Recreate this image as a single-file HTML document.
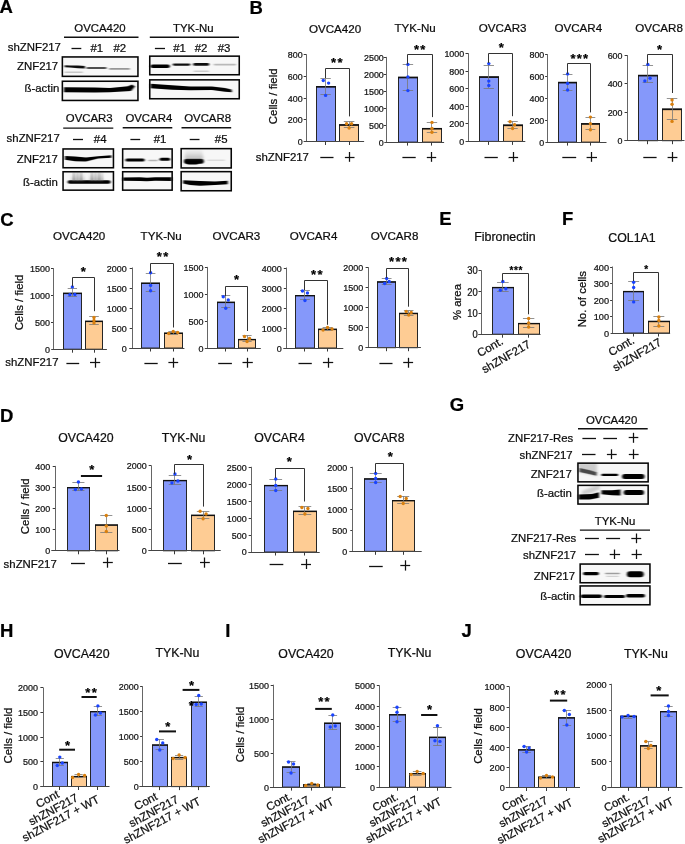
<!DOCTYPE html>
<html><head><meta charset="utf-8"><style>
html,body{margin:0;padding:0;background:#fff;}
svg{display:block;font-family:"Liberation Sans",sans-serif;will-change:transform;}
text{stroke:#000;stroke-width:0.22px;}
</style></head><body>
<svg width="685" height="844" viewBox="0 0 685 844">
<defs>
<filter id="bl1" x="-20%" y="-100%" width="140%" height="300%"><feGaussianBlur stdDeviation="0.9 0.7"/></filter>
<linearGradient id="gsm" x1="0" y1="0" x2="0" y2="1"><stop offset="0" stop-color="#bbb" stop-opacity="0.2"/><stop offset="1" stop-color="#777" stop-opacity="0.9"/></linearGradient>
<linearGradient id="gsm2" x1="0" y1="0" x2="0" y2="1"><stop offset="0" stop-color="#888" stop-opacity="0.55"/><stop offset="1" stop-color="#aaa" stop-opacity="0.2"/></linearGradient>
<filter id="bl2" x="-20%" y="-100%" width="140%" height="300%"><feGaussianBlur stdDeviation="1.5 1.2"/></filter>
</defs>
<rect width="685" height="844" fill="#fff"/>
<text x="-0.46" y="13.03" font-size="18.5" text-anchor="start" font-weight="bold" fill="#000" >A</text>
<text x="249.56" y="14.48" font-size="18.5" text-anchor="start" font-weight="bold" fill="#000" >B</text>
<text x="0.34" y="225.53" font-size="18.5" text-anchor="start" font-weight="bold" fill="#000" >C</text>
<text x="-0.04" y="422.13" font-size="18.5" text-anchor="start" font-weight="bold" fill="#000" >D</text>
<text x="439.26" y="225.13" font-size="18.5" text-anchor="start" font-weight="bold" fill="#000" >E</text>
<text x="561.96" y="225.23" font-size="18.5" text-anchor="start" font-weight="bold" fill="#000" >F</text>
<text x="449.74" y="410.93" font-size="18.5" text-anchor="start" font-weight="bold" fill="#000" >G</text>
<text x="-0.04" y="637.13" font-size="18.5" text-anchor="start" font-weight="bold" fill="#000" >H</text>
<text x="225.36" y="636.53" font-size="18.5" text-anchor="start" font-weight="bold" fill="#000" >I</text>
<text x="461.52" y="636.53" font-size="18.5" text-anchor="start" font-weight="bold" fill="#000" >J</text>
<text x="308.90" y="161.18" font-size="11.4" text-anchor="end" fill="#111" >shZNF217</text>
<text x="0" y="0" font-size="11.4" text-anchor="middle" fill="#111" transform="translate(273.00,96.30) rotate(-90)" dy="3.99">Cells / field</text>
<text x="335.00" y="32.62" font-size="11.6" text-anchor="middle" fill="#111" >OVCA420</text>
<text x="0" y="0" font-size="8.9" text-anchor="end" fill="#1a1a1a" stroke-width="0.08" transform="translate(302.70,144.96) scale(1,1.08)">0</text>
<line x1="303.70" y1="119.50" x2="306.30" y2="119.50" stroke="#3a3a3a" stroke-width="1"/>
<text x="0" y="0" font-size="8.9" text-anchor="end" fill="#1a1a1a" stroke-width="0.08" transform="translate(302.70,123.26) scale(1,1.08)">200</text>
<line x1="303.70" y1="98.50" x2="306.30" y2="98.50" stroke="#3a3a3a" stroke-width="1"/>
<text x="0" y="0" font-size="8.9" text-anchor="end" fill="#1a1a1a" stroke-width="0.08" transform="translate(302.70,101.56) scale(1,1.08)">400</text>
<line x1="303.70" y1="76.50" x2="306.30" y2="76.50" stroke="#3a3a3a" stroke-width="1"/>
<text x="0" y="0" font-size="8.9" text-anchor="end" fill="#1a1a1a" stroke-width="0.08" transform="translate(302.70,79.86) scale(1,1.08)">600</text>
<line x1="303.70" y1="54.50" x2="306.30" y2="54.50" stroke="#3a3a3a" stroke-width="1"/>
<text x="0" y="0" font-size="8.9" text-anchor="end" fill="#1a1a1a" stroke-width="0.08" transform="translate(302.70,58.16) scale(1,1.08)">800</text>
<line x1="306.50" y1="54.20" x2="306.50" y2="141.50" stroke="#666" stroke-width="1"/>
<rect x="316.50" y="86.60" width="19.00" height="54.90" fill="#8598FA" stroke="#262626" stroke-width="1"/>
<line x1="316.00" y1="86.85" x2="336.00" y2="86.85" stroke="#111" stroke-width="1.6"/>
<rect x="339.50" y="124.80" width="19.00" height="16.70" fill="#FECC94" stroke="#262626" stroke-width="1"/>
<line x1="339.00" y1="125.05" x2="359.00" y2="125.05" stroke="#111" stroke-width="1.6"/>
<line x1="303.60" y1="141.50" x2="364.10" y2="141.50" stroke="#444" stroke-width="1.2"/>
<line x1="325.50" y1="141.50" x2="325.50" y2="145.00" stroke="#3a3a3a" stroke-width="1"/>
<line x1="349.50" y1="141.50" x2="349.50" y2="145.00" stroke="#3a3a3a" stroke-width="1"/>
<line x1="325.50" y1="78.30" x2="325.50" y2="94.50" stroke="#777" stroke-width="0.8"/>
<line x1="320.42" y1="78.50" x2="330.78" y2="78.50" stroke="#777" stroke-width="0.8"/>
<line x1="320.42" y1="94.50" x2="330.78" y2="94.50" stroke="#777" stroke-width="0.8"/>
<circle cx="323.30" cy="80.50" r="1.7" fill="#1a44ff"/>
<circle cx="328.60" cy="83.10" r="1.7" fill="#1a44ff"/>
<circle cx="325.60" cy="95.40" r="1.7" fill="#1a44ff"/>
<line x1="349.50" y1="121.70" x2="349.50" y2="127.50" stroke="#777" stroke-width="0.8"/>
<line x1="343.81" y1="121.50" x2="354.39" y2="121.50" stroke="#777" stroke-width="0.8"/>
<line x1="343.81" y1="127.50" x2="354.39" y2="127.50" stroke="#777" stroke-width="0.8"/>
<circle cx="346.60" cy="123.80" r="1.7" fill="#d9800f"/>
<circle cx="351.60" cy="123.80" r="1.7" fill="#d9800f"/>
<circle cx="349.10" cy="128.00" r="1.7" fill="#d9800f"/>
<path d="M325.50,78.00 V68.50 H349.50 V116.40" fill="none" stroke="#333" stroke-width="1"/>
<text x="337.45" y="66.84" font-size="13" text-anchor="middle" fill="#000" font-weight="bold" letter-spacing="1.3">**</text>
<line x1="320.30" y1="157.50" x2="333.50" y2="157.50" stroke="#111" stroke-width="1.3"/>
<line x1="344.90" y1="157.50" x2="354.50" y2="157.50" stroke="#111" stroke-width="1.25"/>
<line x1="349.50" y1="152.00" x2="349.50" y2="161.80" stroke="#111" stroke-width="1.25"/>
<text x="415.10" y="32.42" font-size="11.6" text-anchor="middle" fill="#111" >TYK-Nu</text>
<text x="0" y="0" font-size="8.9" text-anchor="end" fill="#1a1a1a" stroke-width="0.08" transform="translate(383.80,145.56) scale(1,1.08)">0</text>
<line x1="383.70" y1="125.50" x2="386.30" y2="125.50" stroke="#3a3a3a" stroke-width="1"/>
<text x="0" y="0" font-size="8.9" text-anchor="end" fill="#1a1a1a" stroke-width="0.08" transform="translate(383.80,128.62) scale(1,1.08)">500</text>
<line x1="383.70" y1="108.50" x2="386.30" y2="108.50" stroke="#3a3a3a" stroke-width="1"/>
<text x="0" y="0" font-size="8.9" text-anchor="end" fill="#1a1a1a" stroke-width="0.08" transform="translate(383.80,111.68) scale(1,1.08)">1000</text>
<line x1="383.70" y1="91.50" x2="386.30" y2="91.50" stroke="#3a3a3a" stroke-width="1"/>
<text x="0" y="0" font-size="8.9" text-anchor="end" fill="#1a1a1a" stroke-width="0.08" transform="translate(383.80,94.74) scale(1,1.08)">1500</text>
<line x1="383.70" y1="74.50" x2="386.30" y2="74.50" stroke="#3a3a3a" stroke-width="1"/>
<text x="0" y="0" font-size="8.9" text-anchor="end" fill="#1a1a1a" stroke-width="0.08" transform="translate(383.80,77.80) scale(1,1.08)">2000</text>
<line x1="383.70" y1="57.50" x2="386.30" y2="57.50" stroke="#3a3a3a" stroke-width="1"/>
<text x="0" y="0" font-size="8.9" text-anchor="end" fill="#1a1a1a" stroke-width="0.08" transform="translate(383.80,60.86) scale(1,1.08)">2500</text>
<line x1="386.50" y1="56.90" x2="386.50" y2="142.10" stroke="#666" stroke-width="1"/>
<rect x="398.50" y="77.30" width="19.00" height="64.80" fill="#8598FA" stroke="#262626" stroke-width="1"/>
<line x1="398.00" y1="77.55" x2="418.00" y2="77.55" stroke="#111" stroke-width="1.6"/>
<rect x="422.50" y="128.50" width="19.00" height="13.60" fill="#FECC94" stroke="#262626" stroke-width="1"/>
<line x1="422.00" y1="128.75" x2="442.00" y2="128.75" stroke="#111" stroke-width="1.6"/>
<line x1="384.30" y1="142.50" x2="444.10" y2="142.50" stroke="#444" stroke-width="1.2"/>
<line x1="407.50" y1="142.10" x2="407.50" y2="145.60" stroke="#3a3a3a" stroke-width="1"/>
<line x1="431.50" y1="142.10" x2="431.50" y2="145.60" stroke="#3a3a3a" stroke-width="1"/>
<line x1="407.50" y1="64.40" x2="407.50" y2="90.60" stroke="#777" stroke-width="0.8"/>
<line x1="402.66" y1="64.50" x2="413.14" y2="64.50" stroke="#777" stroke-width="0.8"/>
<line x1="402.66" y1="90.50" x2="413.14" y2="90.50" stroke="#777" stroke-width="0.8"/>
<circle cx="407.90" cy="64.40" r="1.7" fill="#1a44ff"/>
<circle cx="407.90" cy="76.90" r="1.7" fill="#1a44ff"/>
<circle cx="407.90" cy="90.60" r="1.7" fill="#1a44ff"/>
<line x1="431.50" y1="122.40" x2="431.50" y2="132.30" stroke="#777" stroke-width="0.8"/>
<line x1="426.74" y1="122.50" x2="437.16" y2="122.50" stroke="#777" stroke-width="0.8"/>
<line x1="426.74" y1="132.50" x2="437.16" y2="132.50" stroke="#777" stroke-width="0.8"/>
<circle cx="431.95" cy="122.40" r="1.7" fill="#d9800f"/>
<circle cx="431.95" cy="128.50" r="1.7" fill="#d9800f"/>
<circle cx="431.95" cy="132.30" r="1.7" fill="#d9800f"/>
<path d="M407.50,64.40 V54.50 H432.50 V117.10" fill="none" stroke="#333" stroke-width="1"/>
<text x="420.25" y="54.14" font-size="13" text-anchor="middle" fill="#000" font-weight="bold" letter-spacing="1.3">**</text>
<line x1="402.40" y1="157.50" x2="415.70" y2="157.50" stroke="#111" stroke-width="1.3"/>
<line x1="426.80" y1="157.50" x2="436.20" y2="157.50" stroke="#111" stroke-width="1.25"/>
<line x1="431.50" y1="152.00" x2="431.50" y2="161.80" stroke="#111" stroke-width="1.25"/>
<text x="502.70" y="32.42" font-size="11.6" text-anchor="middle" fill="#111" >OVCAR3</text>
<text x="0" y="0" font-size="8.9" text-anchor="end" fill="#1a1a1a" stroke-width="0.08" transform="translate(464.20,144.86) scale(1,1.08)">0</text>
<line x1="465.50" y1="123.50" x2="468.10" y2="123.50" stroke="#3a3a3a" stroke-width="1"/>
<text x="0" y="0" font-size="8.9" text-anchor="end" fill="#1a1a1a" stroke-width="0.08" transform="translate(464.20,127.30) scale(1,1.08)">200</text>
<line x1="465.50" y1="106.50" x2="468.10" y2="106.50" stroke="#3a3a3a" stroke-width="1"/>
<text x="0" y="0" font-size="8.9" text-anchor="end" fill="#1a1a1a" stroke-width="0.08" transform="translate(464.20,109.74) scale(1,1.08)">400</text>
<line x1="465.50" y1="88.50" x2="468.10" y2="88.50" stroke="#3a3a3a" stroke-width="1"/>
<text x="0" y="0" font-size="8.9" text-anchor="end" fill="#1a1a1a" stroke-width="0.08" transform="translate(464.20,92.18) scale(1,1.08)">600</text>
<line x1="465.50" y1="71.50" x2="468.10" y2="71.50" stroke="#3a3a3a" stroke-width="1"/>
<text x="0" y="0" font-size="8.9" text-anchor="end" fill="#1a1a1a" stroke-width="0.08" transform="translate(464.20,74.62) scale(1,1.08)">800</text>
<line x1="465.50" y1="53.50" x2="468.10" y2="53.50" stroke="#3a3a3a" stroke-width="1"/>
<text x="0" y="0" font-size="8.9" text-anchor="end" fill="#1a1a1a" stroke-width="0.08" transform="translate(464.20,57.06) scale(1,1.08)">1000</text>
<line x1="468.50" y1="53.10" x2="468.50" y2="141.40" stroke="#666" stroke-width="1"/>
<rect x="479.50" y="76.90" width="19.00" height="64.50" fill="#8598FA" stroke="#262626" stroke-width="1"/>
<line x1="479.00" y1="77.15" x2="499.00" y2="77.15" stroke="#111" stroke-width="1.6"/>
<rect x="503.50" y="125.10" width="19.00" height="16.30" fill="#FECC94" stroke="#262626" stroke-width="1"/>
<line x1="503.00" y1="125.35" x2="523.00" y2="125.35" stroke="#111" stroke-width="1.6"/>
<line x1="465.50" y1="141.50" x2="525.30" y2="141.50" stroke="#444" stroke-width="1.2"/>
<line x1="488.50" y1="141.40" x2="488.50" y2="144.90" stroke="#3a3a3a" stroke-width="1"/>
<line x1="512.50" y1="141.40" x2="512.50" y2="144.90" stroke="#3a3a3a" stroke-width="1"/>
<line x1="488.50" y1="65.00" x2="488.50" y2="88.10" stroke="#777" stroke-width="0.8"/>
<line x1="483.62" y1="65.50" x2="493.98" y2="65.50" stroke="#777" stroke-width="0.8"/>
<line x1="483.62" y1="88.50" x2="493.98" y2="88.50" stroke="#777" stroke-width="0.8"/>
<circle cx="488.80" cy="63.60" r="1.7" fill="#1a44ff"/>
<circle cx="488.80" cy="81.10" r="1.7" fill="#1a44ff"/>
<circle cx="488.80" cy="85.50" r="1.7" fill="#1a44ff"/>
<line x1="512.50" y1="121.30" x2="512.50" y2="128.50" stroke="#777" stroke-width="0.8"/>
<line x1="507.47" y1="121.50" x2="517.73" y2="121.50" stroke="#777" stroke-width="0.8"/>
<line x1="507.47" y1="128.50" x2="517.73" y2="128.50" stroke="#777" stroke-width="0.8"/>
<circle cx="510.10" cy="121.80" r="1.7" fill="#d9800f"/>
<circle cx="514.60" cy="124.70" r="1.7" fill="#d9800f"/>
<circle cx="512.60" cy="128.50" r="1.7" fill="#d9800f"/>
<path d="M488.50,63.00 V53.50 H512.50 V116.20" fill="none" stroke="#333" stroke-width="1"/>
<text x="501.85" y="51.84" font-size="13" text-anchor="middle" fill="#000" font-weight="bold" letter-spacing="1.3">*</text>
<line x1="484.50" y1="157.50" x2="497.80" y2="157.50" stroke="#111" stroke-width="1.3"/>
<line x1="508.60" y1="157.50" x2="518.10" y2="157.50" stroke="#111" stroke-width="1.25"/>
<line x1="513.50" y1="152.00" x2="513.50" y2="161.80" stroke="#111" stroke-width="1.25"/>
<text x="578.30" y="32.42" font-size="11.6" text-anchor="middle" fill="#111" >OVCAR4</text>
<text x="0" y="0" font-size="8.9" text-anchor="end" fill="#1a1a1a" stroke-width="0.08" transform="translate(544.30,145.56) scale(1,1.08)">0</text>
<line x1="545.10" y1="120.50" x2="547.70" y2="120.50" stroke="#3a3a3a" stroke-width="1"/>
<text x="0" y="0" font-size="8.9" text-anchor="end" fill="#1a1a1a" stroke-width="0.08" transform="translate(544.30,123.76) scale(1,1.08)">200</text>
<line x1="545.10" y1="98.50" x2="547.70" y2="98.50" stroke="#3a3a3a" stroke-width="1"/>
<text x="0" y="0" font-size="8.9" text-anchor="end" fill="#1a1a1a" stroke-width="0.08" transform="translate(544.30,101.96) scale(1,1.08)">400</text>
<line x1="545.10" y1="76.50" x2="547.70" y2="76.50" stroke="#3a3a3a" stroke-width="1"/>
<text x="0" y="0" font-size="8.9" text-anchor="end" fill="#1a1a1a" stroke-width="0.08" transform="translate(544.30,80.16) scale(1,1.08)">600</text>
<line x1="545.10" y1="54.50" x2="547.70" y2="54.50" stroke="#3a3a3a" stroke-width="1"/>
<text x="0" y="0" font-size="8.9" text-anchor="end" fill="#1a1a1a" stroke-width="0.08" transform="translate(544.30,58.36) scale(1,1.08)">800</text>
<line x1="547.50" y1="54.40" x2="547.50" y2="142.10" stroke="#666" stroke-width="1"/>
<rect x="558.50" y="82.40" width="18.00" height="59.70" fill="#8598FA" stroke="#262626" stroke-width="1"/>
<line x1="558.00" y1="82.65" x2="577.00" y2="82.65" stroke="#111" stroke-width="1.6"/>
<rect x="581.50" y="123.70" width="18.00" height="18.40" fill="#FECC94" stroke="#262626" stroke-width="1"/>
<line x1="581.00" y1="123.95" x2="600.00" y2="123.95" stroke="#111" stroke-width="1.6"/>
<line x1="545.40" y1="142.50" x2="606.50" y2="142.50" stroke="#444" stroke-width="1.2"/>
<line x1="567.50" y1="142.10" x2="567.50" y2="145.60" stroke="#3a3a3a" stroke-width="1"/>
<line x1="590.50" y1="142.10" x2="590.50" y2="145.60" stroke="#3a3a3a" stroke-width="1"/>
<line x1="567.50" y1="74.50" x2="567.50" y2="90.60" stroke="#777" stroke-width="0.8"/>
<line x1="562.74" y1="74.50" x2="572.46" y2="74.50" stroke="#777" stroke-width="0.8"/>
<line x1="562.74" y1="90.50" x2="572.46" y2="90.50" stroke="#777" stroke-width="0.8"/>
<circle cx="567.60" cy="73.90" r="1.7" fill="#1a44ff"/>
<circle cx="567.60" cy="83.40" r="1.7" fill="#1a44ff"/>
<circle cx="567.60" cy="90.00" r="1.7" fill="#1a44ff"/>
<line x1="590.50" y1="117.10" x2="590.50" y2="129.80" stroke="#777" stroke-width="0.8"/>
<line x1="585.49" y1="117.50" x2="595.31" y2="117.50" stroke="#777" stroke-width="0.8"/>
<line x1="585.49" y1="129.50" x2="595.31" y2="129.50" stroke="#777" stroke-width="0.8"/>
<circle cx="590.40" cy="117.10" r="1.7" fill="#d9800f"/>
<circle cx="590.40" cy="123.70" r="1.7" fill="#d9800f"/>
<circle cx="590.40" cy="129.80" r="1.7" fill="#d9800f"/>
<path d="M567.50,73.90 V63.50 H590.50 V112.40" fill="none" stroke="#333" stroke-width="1"/>
<text x="579.95" y="62.64" font-size="13" text-anchor="middle" fill="#000" font-weight="bold" letter-spacing="1.3">***</text>
<line x1="562.30" y1="157.50" x2="576.20" y2="157.50" stroke="#111" stroke-width="1.3"/>
<line x1="586.60" y1="157.50" x2="597.00" y2="157.50" stroke="#111" stroke-width="1.25"/>
<line x1="591.50" y1="152.00" x2="591.50" y2="161.80" stroke="#111" stroke-width="1.25"/>
<text x="659.10" y="32.42" font-size="11.6" text-anchor="middle" fill="#111" >OVCAR8</text>
<text x="0" y="0" font-size="8.9" text-anchor="end" fill="#1a1a1a" stroke-width="0.08" transform="translate(622.50,144.16) scale(1,1.08)">0</text>
<line x1="624.60" y1="112.50" x2="627.20" y2="112.50" stroke="#3a3a3a" stroke-width="1"/>
<text x="0" y="0" font-size="8.9" text-anchor="end" fill="#1a1a1a" stroke-width="0.08" transform="translate(622.50,115.76) scale(1,1.08)">200</text>
<line x1="624.60" y1="83.50" x2="627.20" y2="83.50" stroke="#3a3a3a" stroke-width="1"/>
<text x="0" y="0" font-size="8.9" text-anchor="end" fill="#1a1a1a" stroke-width="0.08" transform="translate(622.50,87.36) scale(1,1.08)">400</text>
<line x1="624.60" y1="55.50" x2="627.20" y2="55.50" stroke="#3a3a3a" stroke-width="1"/>
<text x="0" y="0" font-size="8.9" text-anchor="end" fill="#1a1a1a" stroke-width="0.08" transform="translate(622.50,58.96) scale(1,1.08)">600</text>
<line x1="627.50" y1="55.00" x2="627.50" y2="140.70" stroke="#666" stroke-width="1"/>
<rect x="638.50" y="75.40" width="19.00" height="65.30" fill="#8598FA" stroke="#262626" stroke-width="1"/>
<line x1="638.00" y1="75.65" x2="658.00" y2="75.65" stroke="#111" stroke-width="1.6"/>
<rect x="662.50" y="109.10" width="19.00" height="31.60" fill="#FECC94" stroke="#262626" stroke-width="1"/>
<line x1="662.00" y1="109.35" x2="682.00" y2="109.35" stroke="#111" stroke-width="1.6"/>
<line x1="624.30" y1="140.50" x2="684.50" y2="140.50" stroke="#444" stroke-width="1.2"/>
<line x1="647.50" y1="140.70" x2="647.50" y2="144.20" stroke="#3a3a3a" stroke-width="1"/>
<line x1="672.50" y1="140.70" x2="672.50" y2="144.20" stroke="#3a3a3a" stroke-width="1"/>
<line x1="647.50" y1="65.90" x2="647.50" y2="82.90" stroke="#777" stroke-width="0.8"/>
<line x1="642.64" y1="65.50" x2="653.06" y2="65.50" stroke="#777" stroke-width="0.8"/>
<line x1="642.64" y1="82.50" x2="653.06" y2="82.50" stroke="#777" stroke-width="0.8"/>
<circle cx="647.85" cy="64.40" r="1.7" fill="#1a44ff"/>
<circle cx="650.05" cy="78.20" r="1.7" fill="#1a44ff"/>
<circle cx="644.85" cy="81.00" r="1.7" fill="#1a44ff"/>
<line x1="672.50" y1="98.10" x2="672.50" y2="119.50" stroke="#777" stroke-width="0.8"/>
<line x1="666.78" y1="98.50" x2="677.31" y2="98.50" stroke="#777" stroke-width="0.8"/>
<line x1="666.78" y1="119.50" x2="677.31" y2="119.50" stroke="#777" stroke-width="0.8"/>
<circle cx="672.05" cy="100.00" r="1.7" fill="#d9800f"/>
<circle cx="672.05" cy="104.20" r="1.7" fill="#d9800f"/>
<circle cx="672.05" cy="121.40" r="1.7" fill="#d9800f"/>
<path d="M647.50,64.40 V54.50 H672.50 V93.00" fill="none" stroke="#333" stroke-width="1"/>
<text x="660.25" y="53.54" font-size="13" text-anchor="middle" fill="#000" font-weight="bold" letter-spacing="1.3">*</text>
<line x1="643.30" y1="157.50" x2="656.60" y2="157.50" stroke="#111" stroke-width="1.3"/>
<line x1="667.60" y1="157.50" x2="677.40" y2="157.50" stroke="#111" stroke-width="1.25"/>
<line x1="672.50" y1="152.00" x2="672.50" y2="161.80" stroke="#111" stroke-width="1.25"/>
<text x="58.50" y="365.78" font-size="11.4" text-anchor="end" fill="#111" >shZNF217</text>
<text x="0" y="0" font-size="11.4" text-anchor="middle" fill="#111" transform="translate(18.90,302.50) rotate(-90)" dy="3.99">Cells / field</text>
<text x="79.20" y="240.32" font-size="11.6" text-anchor="middle" fill="#111" >OVCA420</text>
<text x="0" y="0" font-size="9.0" text-anchor="end" fill="#1a1a1a" stroke-width="0.08" transform="translate(49.90,352.70) scale(1,1.08)">0</text>
<line x1="51.00" y1="322.50" x2="53.60" y2="322.50" stroke="#3a3a3a" stroke-width="1"/>
<text x="0" y="0" font-size="9.0" text-anchor="end" fill="#1a1a1a" stroke-width="0.08" transform="translate(49.90,325.84) scale(1,1.08)">500</text>
<line x1="51.00" y1="295.50" x2="53.60" y2="295.50" stroke="#3a3a3a" stroke-width="1"/>
<text x="0" y="0" font-size="9.0" text-anchor="end" fill="#1a1a1a" stroke-width="0.08" transform="translate(49.90,298.97) scale(1,1.08)">1000</text>
<line x1="51.00" y1="268.50" x2="53.60" y2="268.50" stroke="#3a3a3a" stroke-width="1"/>
<text x="0" y="0" font-size="9.0" text-anchor="end" fill="#1a1a1a" stroke-width="0.08" transform="translate(49.90,272.10) scale(1,1.08)">1500</text>
<line x1="53.50" y1="268.10" x2="53.50" y2="349.20" stroke="#666" stroke-width="1"/>
<rect x="63.50" y="293.20" width="18.00" height="56.00" fill="#8598FA" stroke="#262626" stroke-width="1"/>
<line x1="63.00" y1="293.45" x2="82.00" y2="293.45" stroke="#111" stroke-width="1.3"/>
<rect x="85.50" y="321.20" width="17.00" height="28.00" fill="#FECC94" stroke="#262626" stroke-width="1"/>
<line x1="85.00" y1="321.45" x2="103.00" y2="321.45" stroke="#111" stroke-width="1.3"/>
<line x1="51.20" y1="349.50" x2="106.90" y2="349.50" stroke="#444" stroke-width="1.2"/>
<line x1="72.50" y1="349.20" x2="72.50" y2="352.70" stroke="#3a3a3a" stroke-width="1"/>
<line x1="94.50" y1="349.20" x2="94.50" y2="352.70" stroke="#3a3a3a" stroke-width="1"/>
<line x1="72.50" y1="288.70" x2="72.50" y2="296.40" stroke="#777" stroke-width="0.8"/>
<line x1="67.68" y1="288.50" x2="77.02" y2="288.50" stroke="#777" stroke-width="0.8"/>
<line x1="67.68" y1="296.50" x2="77.02" y2="296.50" stroke="#777" stroke-width="0.8"/>
<circle cx="72.35" cy="286.90" r="1.7" fill="#1a44ff"/>
<circle cx="69.85" cy="294.80" r="1.7" fill="#1a44ff"/>
<circle cx="74.85" cy="294.50" r="1.7" fill="#1a44ff"/>
<line x1="94.50" y1="316.90" x2="94.50" y2="324.10" stroke="#777" stroke-width="0.8"/>
<line x1="89.19" y1="316.50" x2="98.81" y2="316.50" stroke="#777" stroke-width="0.8"/>
<line x1="89.19" y1="324.50" x2="98.81" y2="324.50" stroke="#777" stroke-width="0.8"/>
<circle cx="94.00" cy="317.50" r="1.7" fill="#d9800f"/>
<circle cx="94.00" cy="320.50" r="1.7" fill="#d9800f"/>
<circle cx="94.00" cy="323.00" r="1.7" fill="#d9800f"/>
<path d="M72.50,286.50 V277.50 H94.50 V311.20" fill="none" stroke="#333" stroke-width="1"/>
<text x="83.85" y="275.94" font-size="13" text-anchor="middle" fill="#000" font-weight="bold" letter-spacing="1.3">*</text>
<line x1="66.40" y1="363.50" x2="79.20" y2="363.50" stroke="#111" stroke-width="1.3"/>
<line x1="90.00" y1="362.50" x2="100.20" y2="362.50" stroke="#111" stroke-width="1.25"/>
<line x1="95.50" y1="357.80" x2="95.50" y2="367.70" stroke="#111" stroke-width="1.25"/>
<text x="161.20" y="239.72" font-size="11.6" text-anchor="middle" fill="#111" >TYK-Nu</text>
<text x="0" y="0" font-size="9.0" text-anchor="end" fill="#1a1a1a" stroke-width="0.08" transform="translate(126.70,351.50) scale(1,1.08)">0</text>
<line x1="129.70" y1="328.50" x2="132.30" y2="328.50" stroke="#3a3a3a" stroke-width="1"/>
<text x="0" y="0" font-size="9.0" text-anchor="end" fill="#1a1a1a" stroke-width="0.08" transform="translate(126.70,331.50) scale(1,1.08)">500</text>
<line x1="129.70" y1="308.50" x2="132.30" y2="308.50" stroke="#3a3a3a" stroke-width="1"/>
<text x="0" y="0" font-size="9.0" text-anchor="end" fill="#1a1a1a" stroke-width="0.08" transform="translate(126.70,311.50) scale(1,1.08)">1000</text>
<line x1="129.70" y1="288.50" x2="132.30" y2="288.50" stroke="#3a3a3a" stroke-width="1"/>
<text x="0" y="0" font-size="9.0" text-anchor="end" fill="#1a1a1a" stroke-width="0.08" transform="translate(126.70,291.50) scale(1,1.08)">1500</text>
<line x1="129.70" y1="268.50" x2="132.30" y2="268.50" stroke="#3a3a3a" stroke-width="1"/>
<text x="0" y="0" font-size="9.0" text-anchor="end" fill="#1a1a1a" stroke-width="0.08" transform="translate(126.70,271.50) scale(1,1.08)">2000</text>
<line x1="132.50" y1="267.50" x2="132.50" y2="348.00" stroke="#666" stroke-width="1"/>
<rect x="141.50" y="283.10" width="18.00" height="64.90" fill="#8598FA" stroke="#262626" stroke-width="1"/>
<line x1="141.00" y1="283.35" x2="160.00" y2="283.35" stroke="#111" stroke-width="1.3"/>
<rect x="164.50" y="333.10" width="18.00" height="14.90" fill="#FECC94" stroke="#262626" stroke-width="1"/>
<line x1="164.00" y1="333.35" x2="183.00" y2="333.35" stroke="#111" stroke-width="1.3"/>
<line x1="129.20" y1="348.50" x2="184.40" y2="348.50" stroke="#444" stroke-width="1.2"/>
<line x1="150.50" y1="348.00" x2="150.50" y2="351.50" stroke="#3a3a3a" stroke-width="1"/>
<line x1="173.50" y1="348.00" x2="173.50" y2="351.50" stroke="#3a3a3a" stroke-width="1"/>
<line x1="150.50" y1="273.30" x2="150.50" y2="291.90" stroke="#777" stroke-width="0.8"/>
<line x1="145.79" y1="273.50" x2="155.41" y2="273.50" stroke="#777" stroke-width="0.8"/>
<line x1="145.79" y1="291.50" x2="155.41" y2="291.50" stroke="#777" stroke-width="0.8"/>
<circle cx="150.60" cy="272.80" r="1.7" fill="#1a44ff"/>
<circle cx="150.60" cy="285.40" r="1.7" fill="#1a44ff"/>
<circle cx="150.60" cy="290.70" r="1.7" fill="#1a44ff"/>
<line x1="173.50" y1="331.50" x2="173.50" y2="334.00" stroke="#777" stroke-width="0.8"/>
<line x1="168.39" y1="331.50" x2="178.01" y2="331.50" stroke="#777" stroke-width="0.8"/>
<line x1="168.39" y1="334.50" x2="178.01" y2="334.50" stroke="#777" stroke-width="0.8"/>
<circle cx="168.70" cy="333.50" r="1.7" fill="#d9800f"/>
<circle cx="173.20" cy="331.50" r="1.7" fill="#d9800f"/>
<circle cx="177.70" cy="332.50" r="1.7" fill="#d9800f"/>
<path d="M150.50,272.80 V263.50 H173.50 V327.50" fill="none" stroke="#333" stroke-width="1"/>
<text x="163.15" y="261.04" font-size="13" text-anchor="middle" fill="#000" font-weight="bold" letter-spacing="1.3">**</text>
<line x1="144.40" y1="363.50" x2="157.70" y2="363.50" stroke="#111" stroke-width="1.3"/>
<line x1="168.40" y1="362.50" x2="178.20" y2="362.50" stroke="#111" stroke-width="1.25"/>
<line x1="173.50" y1="357.80" x2="173.50" y2="367.70" stroke="#111" stroke-width="1.25"/>
<text x="236.40" y="239.72" font-size="11.6" text-anchor="middle" fill="#111" >OVCAR3</text>
<text x="0" y="0" font-size="9.0" text-anchor="end" fill="#1a1a1a" stroke-width="0.08" transform="translate(203.50,351.50) scale(1,1.08)">0</text>
<line x1="204.90" y1="321.50" x2="207.50" y2="321.50" stroke="#3a3a3a" stroke-width="1"/>
<text x="0" y="0" font-size="9.0" text-anchor="end" fill="#1a1a1a" stroke-width="0.08" transform="translate(203.50,324.64) scale(1,1.08)">500</text>
<line x1="204.90" y1="294.50" x2="207.50" y2="294.50" stroke="#3a3a3a" stroke-width="1"/>
<text x="0" y="0" font-size="9.0" text-anchor="end" fill="#1a1a1a" stroke-width="0.08" transform="translate(203.50,297.77) scale(1,1.08)">1000</text>
<line x1="204.90" y1="267.50" x2="207.50" y2="267.50" stroke="#3a3a3a" stroke-width="1"/>
<text x="0" y="0" font-size="9.0" text-anchor="end" fill="#1a1a1a" stroke-width="0.08" transform="translate(203.50,270.90) scale(1,1.08)">1500</text>
<line x1="207.50" y1="266.90" x2="207.50" y2="348.00" stroke="#666" stroke-width="1"/>
<rect x="217.50" y="302.20" width="17.00" height="45.80" fill="#8598FA" stroke="#262626" stroke-width="1"/>
<line x1="217.00" y1="302.45" x2="235.00" y2="302.45" stroke="#111" stroke-width="1.3"/>
<rect x="238.50" y="339.40" width="17.00" height="8.60" fill="#FECC94" stroke="#262626" stroke-width="1"/>
<line x1="238.00" y1="339.65" x2="256.00" y2="339.65" stroke="#111" stroke-width="1.3"/>
<line x1="204.80" y1="348.50" x2="260.80" y2="348.50" stroke="#444" stroke-width="1.2"/>
<line x1="225.50" y1="348.00" x2="225.50" y2="351.50" stroke="#3a3a3a" stroke-width="1"/>
<line x1="247.50" y1="348.00" x2="247.50" y2="351.50" stroke="#3a3a3a" stroke-width="1"/>
<line x1="225.50" y1="295.50" x2="225.50" y2="307.90" stroke="#777" stroke-width="0.8"/>
<line x1="221.19" y1="295.50" x2="230.31" y2="295.50" stroke="#777" stroke-width="0.8"/>
<line x1="221.19" y1="307.50" x2="230.31" y2="307.50" stroke="#777" stroke-width="0.8"/>
<circle cx="223.25" cy="296.70" r="1.7" fill="#1a44ff"/>
<circle cx="228.25" cy="300.00" r="1.7" fill="#1a44ff"/>
<circle cx="225.75" cy="308.30" r="1.7" fill="#1a44ff"/>
<line x1="247.50" y1="335.50" x2="247.50" y2="341.70" stroke="#777" stroke-width="0.8"/>
<line x1="242.49" y1="335.50" x2="251.61" y2="335.50" stroke="#777" stroke-width="0.8"/>
<line x1="242.49" y1="341.50" x2="251.61" y2="341.50" stroke="#777" stroke-width="0.8"/>
<circle cx="244.55" cy="336.50" r="1.7" fill="#d9800f"/>
<circle cx="249.55" cy="338.50" r="1.7" fill="#d9800f"/>
<circle cx="247.05" cy="341.50" r="1.7" fill="#d9800f"/>
<path d="M225.50,296.00 V286.50 H247.50 V331.00" fill="none" stroke="#333" stroke-width="1"/>
<text x="237.25" y="284.14" font-size="13" text-anchor="middle" fill="#000" font-weight="bold" letter-spacing="1.3">*</text>
<line x1="218.20" y1="363.50" x2="231.90" y2="363.50" stroke="#111" stroke-width="1.3"/>
<line x1="242.50" y1="362.50" x2="252.80" y2="362.50" stroke="#111" stroke-width="1.25"/>
<line x1="247.50" y1="357.80" x2="247.50" y2="367.70" stroke="#111" stroke-width="1.25"/>
<text x="313.50" y="239.72" font-size="11.6" text-anchor="middle" fill="#111" >OVCAR4</text>
<text x="0" y="0" font-size="9.0" text-anchor="end" fill="#1a1a1a" stroke-width="0.08" transform="translate(281.70,351.50) scale(1,1.08)">0</text>
<line x1="283.80" y1="328.50" x2="286.40" y2="328.50" stroke="#3a3a3a" stroke-width="1"/>
<text x="0" y="0" font-size="9.0" text-anchor="end" fill="#1a1a1a" stroke-width="0.08" transform="translate(281.70,331.50) scale(1,1.08)">1000</text>
<line x1="283.80" y1="308.50" x2="286.40" y2="308.50" stroke="#3a3a3a" stroke-width="1"/>
<text x="0" y="0" font-size="9.0" text-anchor="end" fill="#1a1a1a" stroke-width="0.08" transform="translate(281.70,311.50) scale(1,1.08)">2000</text>
<line x1="283.80" y1="288.50" x2="286.40" y2="288.50" stroke="#3a3a3a" stroke-width="1"/>
<text x="0" y="0" font-size="9.0" text-anchor="end" fill="#1a1a1a" stroke-width="0.08" transform="translate(281.70,291.50) scale(1,1.08)">3000</text>
<line x1="283.80" y1="268.50" x2="286.40" y2="268.50" stroke="#3a3a3a" stroke-width="1"/>
<text x="0" y="0" font-size="9.0" text-anchor="end" fill="#1a1a1a" stroke-width="0.08" transform="translate(281.70,271.50) scale(1,1.08)">4000</text>
<line x1="286.50" y1="267.50" x2="286.50" y2="348.00" stroke="#666" stroke-width="1"/>
<rect x="295.50" y="295.50" width="19.00" height="52.50" fill="#8598FA" stroke="#262626" stroke-width="1"/>
<line x1="295.00" y1="295.75" x2="315.00" y2="295.75" stroke="#111" stroke-width="1.3"/>
<rect x="318.50" y="329.20" width="18.00" height="18.80" fill="#FECC94" stroke="#262626" stroke-width="1"/>
<line x1="318.00" y1="329.45" x2="337.00" y2="329.45" stroke="#111" stroke-width="1.3"/>
<line x1="283.30" y1="348.50" x2="343.30" y2="348.50" stroke="#444" stroke-width="1.2"/>
<line x1="304.50" y1="348.00" x2="304.50" y2="351.50" stroke="#3a3a3a" stroke-width="1"/>
<line x1="327.50" y1="348.00" x2="327.50" y2="351.50" stroke="#3a3a3a" stroke-width="1"/>
<line x1="304.50" y1="290.50" x2="304.50" y2="299.90" stroke="#777" stroke-width="0.8"/>
<line x1="300.06" y1="290.50" x2="309.84" y2="290.50" stroke="#777" stroke-width="0.8"/>
<line x1="300.06" y1="299.50" x2="309.84" y2="299.50" stroke="#777" stroke-width="0.8"/>
<circle cx="302.45" cy="291.00" r="1.7" fill="#1a44ff"/>
<circle cx="307.45" cy="293.00" r="1.7" fill="#1a44ff"/>
<circle cx="304.95" cy="300.50" r="1.7" fill="#1a44ff"/>
<line x1="327.50" y1="327.50" x2="327.50" y2="330.50" stroke="#777" stroke-width="0.8"/>
<line x1="322.61" y1="327.50" x2="332.49" y2="327.50" stroke="#777" stroke-width="0.8"/>
<line x1="322.61" y1="330.50" x2="332.49" y2="330.50" stroke="#777" stroke-width="0.8"/>
<circle cx="323.05" cy="330.00" r="1.7" fill="#d9800f"/>
<circle cx="327.55" cy="327.50" r="1.7" fill="#d9800f"/>
<circle cx="332.05" cy="329.00" r="1.7" fill="#d9800f"/>
<path d="M304.50,290.00 V280.50 H327.50 V324.80" fill="none" stroke="#333" stroke-width="1"/>
<text x="317.45" y="278.74" font-size="13" text-anchor="middle" fill="#000" font-weight="bold" letter-spacing="1.3">**</text>
<line x1="298.50" y1="363.50" x2="311.80" y2="363.50" stroke="#111" stroke-width="1.3"/>
<line x1="322.90" y1="362.50" x2="333.20" y2="362.50" stroke="#111" stroke-width="1.25"/>
<line x1="328.50" y1="357.80" x2="328.50" y2="367.70" stroke="#111" stroke-width="1.25"/>
<text x="394.50" y="239.72" font-size="11.6" text-anchor="middle" fill="#111" >OVCAR8</text>
<text x="0" y="0" font-size="9.0" text-anchor="end" fill="#1a1a1a" stroke-width="0.08" transform="translate(363.30,351.20) scale(1,1.08)">0</text>
<line x1="365.60" y1="327.50" x2="368.20" y2="327.50" stroke="#3a3a3a" stroke-width="1"/>
<text x="0" y="0" font-size="9.0" text-anchor="end" fill="#1a1a1a" stroke-width="0.08" transform="translate(363.30,331.18) scale(1,1.08)">500</text>
<line x1="365.60" y1="307.50" x2="368.20" y2="307.50" stroke="#3a3a3a" stroke-width="1"/>
<text x="0" y="0" font-size="9.0" text-anchor="end" fill="#1a1a1a" stroke-width="0.08" transform="translate(363.30,311.15) scale(1,1.08)">1000</text>
<line x1="365.60" y1="287.50" x2="368.20" y2="287.50" stroke="#3a3a3a" stroke-width="1"/>
<text x="0" y="0" font-size="9.0" text-anchor="end" fill="#1a1a1a" stroke-width="0.08" transform="translate(363.30,291.13) scale(1,1.08)">1500</text>
<line x1="365.60" y1="267.50" x2="368.20" y2="267.50" stroke="#3a3a3a" stroke-width="1"/>
<text x="0" y="0" font-size="9.0" text-anchor="end" fill="#1a1a1a" stroke-width="0.08" transform="translate(363.30,271.10) scale(1,1.08)">2000</text>
<line x1="368.50" y1="267.10" x2="368.50" y2="347.70" stroke="#666" stroke-width="1"/>
<rect x="377.50" y="281.80" width="18.00" height="65.90" fill="#8598FA" stroke="#262626" stroke-width="1"/>
<line x1="377.00" y1="282.05" x2="396.00" y2="282.05" stroke="#111" stroke-width="1.3"/>
<rect x="399.50" y="313.30" width="18.00" height="34.40" fill="#FECC94" stroke="#262626" stroke-width="1"/>
<line x1="399.00" y1="313.55" x2="418.00" y2="313.55" stroke="#111" stroke-width="1.3"/>
<line x1="365.40" y1="347.50" x2="420.90" y2="347.50" stroke="#444" stroke-width="1.2"/>
<line x1="386.50" y1="347.70" x2="386.50" y2="351.20" stroke="#3a3a3a" stroke-width="1"/>
<line x1="408.50" y1="347.70" x2="408.50" y2="351.20" stroke="#3a3a3a" stroke-width="1"/>
<line x1="386.50" y1="278.30" x2="386.50" y2="284.80" stroke="#777" stroke-width="0.8"/>
<line x1="381.76" y1="278.50" x2="391.54" y2="278.50" stroke="#777" stroke-width="0.8"/>
<line x1="381.76" y1="284.50" x2="391.54" y2="284.50" stroke="#777" stroke-width="0.8"/>
<circle cx="386.65" cy="278.50" r="1.7" fill="#1a44ff"/>
<circle cx="389.15" cy="281.50" r="1.7" fill="#1a44ff"/>
<circle cx="384.65" cy="283.50" r="1.7" fill="#1a44ff"/>
<line x1="408.50" y1="310.90" x2="408.50" y2="315.00" stroke="#777" stroke-width="0.8"/>
<line x1="403.89" y1="310.50" x2="413.51" y2="310.50" stroke="#777" stroke-width="0.8"/>
<line x1="403.89" y1="315.50" x2="413.51" y2="315.50" stroke="#777" stroke-width="0.8"/>
<circle cx="406.20" cy="311.50" r="1.7" fill="#d9800f"/>
<circle cx="411.20" cy="312.50" r="1.7" fill="#d9800f"/>
<circle cx="408.70" cy="315.00" r="1.7" fill="#d9800f"/>
<path d="M386.50,278.00 V268.50 H408.50 V306.70" fill="none" stroke="#333" stroke-width="1"/>
<text x="398.65" y="265.94" font-size="13" text-anchor="middle" fill="#000" font-weight="bold" letter-spacing="1.3">***</text>
<line x1="379.40" y1="363.50" x2="392.50" y2="363.50" stroke="#111" stroke-width="1.3"/>
<line x1="403.20" y1="362.50" x2="413.10" y2="362.50" stroke="#111" stroke-width="1.25"/>
<line x1="408.50" y1="357.80" x2="408.50" y2="367.70" stroke="#111" stroke-width="1.25"/>
<text x="0" y="0" font-size="11.4" text-anchor="middle" fill="#111" transform="translate(456.80,302.00) rotate(-90)" dy="3.99">% area</text>
<text x="504.90" y="240.78" font-size="12.4" text-anchor="middle" fill="#111" >Fibronectin</text>
<text x="0" y="0" font-size="9.4" text-anchor="end" fill="#1a1a1a" stroke-width="0.08" transform="translate(477.70,337.85) scale(1,1.08)">0</text>
<line x1="478.50" y1="313.50" x2="481.10" y2="313.50" stroke="#3a3a3a" stroke-width="1"/>
<text x="0" y="0" font-size="9.4" text-anchor="end" fill="#1a1a1a" stroke-width="0.08" transform="translate(477.70,316.69) scale(1,1.08)">10</text>
<line x1="478.50" y1="291.50" x2="481.10" y2="291.50" stroke="#3a3a3a" stroke-width="1"/>
<text x="0" y="0" font-size="9.4" text-anchor="end" fill="#1a1a1a" stroke-width="0.08" transform="translate(477.70,295.52) scale(1,1.08)">20</text>
<line x1="478.50" y1="270.50" x2="481.10" y2="270.50" stroke="#3a3a3a" stroke-width="1"/>
<text x="0" y="0" font-size="9.4" text-anchor="end" fill="#1a1a1a" stroke-width="0.08" transform="translate(477.70,274.35) scale(1,1.08)">30</text>
<line x1="481.50" y1="270.20" x2="481.50" y2="334.20" stroke="#666" stroke-width="1"/>
<rect x="492.50" y="287.40" width="21.00" height="46.80" fill="#8598FA" stroke="#262626" stroke-width="1"/>
<line x1="492.00" y1="287.65" x2="514.00" y2="287.65" stroke="#111" stroke-width="1.3"/>
<rect x="518.50" y="323.40" width="21.00" height="10.80" fill="#FECC94" stroke="#262626" stroke-width="1"/>
<line x1="518.00" y1="323.65" x2="540.00" y2="323.65" stroke="#111" stroke-width="1.3"/>
<line x1="478.20" y1="334.50" x2="540.50" y2="334.50" stroke="#444" stroke-width="1.2"/>
<line x1="502.50" y1="334.20" x2="502.50" y2="337.70" stroke="#3a3a3a" stroke-width="1"/>
<line x1="528.50" y1="334.20" x2="528.50" y2="337.70" stroke="#3a3a3a" stroke-width="1"/>
<line x1="502.50" y1="282.00" x2="502.50" y2="291.20" stroke="#777" stroke-width="0.8"/>
<line x1="497.05" y1="282.50" x2="508.66" y2="282.50" stroke="#777" stroke-width="0.8"/>
<line x1="497.05" y1="291.50" x2="508.66" y2="291.50" stroke="#777" stroke-width="0.8"/>
<circle cx="502.85" cy="281.50" r="1.7" fill="#1a44ff"/>
<circle cx="505.85" cy="288.70" r="1.7" fill="#1a44ff"/>
<circle cx="500.35" cy="290.20" r="1.7" fill="#1a44ff"/>
<line x1="528.50" y1="318.50" x2="528.50" y2="327.00" stroke="#777" stroke-width="0.8"/>
<line x1="522.95" y1="318.50" x2="534.35" y2="318.50" stroke="#777" stroke-width="0.8"/>
<line x1="522.95" y1="327.50" x2="534.35" y2="327.50" stroke="#777" stroke-width="0.8"/>
<circle cx="528.65" cy="318.50" r="1.7" fill="#d9800f"/>
<circle cx="528.65" cy="323.00" r="1.7" fill="#d9800f"/>
<circle cx="528.65" cy="327.00" r="1.7" fill="#d9800f"/>
<path d="M502.50,281.50 V273.50 H528.50 V314.30" fill="none" stroke="#333" stroke-width="1"/>
<text x="516.30" y="274.48" font-size="10" text-anchor="middle" fill="#000" font-weight="bold" letter-spacing="0.6">***</text>
<text x="0" y="0" font-size="11.6" text-anchor="end" fill="#111" transform="translate(504.00,343.50) rotate(-30)">Cont.</text>
<text x="0" y="0" font-size="11.6" text-anchor="end" fill="#111" transform="translate(531.40,346.50) rotate(-30)">shZNF217</text>
<text x="0" y="0" font-size="11.4" text-anchor="middle" fill="#111" transform="translate(581.90,299.20) rotate(-90)" dy="3.99">No. of cells</text>
<text x="632.00" y="241.84" font-size="12.35" text-anchor="middle" fill="#111" >COL1A1</text>
<text x="0" y="0" font-size="9.2" text-anchor="end" fill="#1a1a1a" stroke-width="0.08" transform="translate(609.00,336.58) scale(1,1.08)">0</text>
<line x1="610.10" y1="316.50" x2="612.70" y2="316.50" stroke="#3a3a3a" stroke-width="1"/>
<text x="0" y="0" font-size="9.2" text-anchor="end" fill="#1a1a1a" stroke-width="0.08" transform="translate(609.00,320.08) scale(1,1.08)">100</text>
<line x1="610.10" y1="300.50" x2="612.70" y2="300.50" stroke="#3a3a3a" stroke-width="1"/>
<text x="0" y="0" font-size="9.2" text-anchor="end" fill="#1a1a1a" stroke-width="0.08" transform="translate(609.00,303.58) scale(1,1.08)">200</text>
<line x1="610.10" y1="283.50" x2="612.70" y2="283.50" stroke="#3a3a3a" stroke-width="1"/>
<text x="0" y="0" font-size="9.2" text-anchor="end" fill="#1a1a1a" stroke-width="0.08" transform="translate(609.00,287.08) scale(1,1.08)">300</text>
<line x1="610.10" y1="267.50" x2="612.70" y2="267.50" stroke="#3a3a3a" stroke-width="1"/>
<text x="0" y="0" font-size="9.2" text-anchor="end" fill="#1a1a1a" stroke-width="0.08" transform="translate(609.00,270.58) scale(1,1.08)">400</text>
<line x1="612.50" y1="266.50" x2="612.50" y2="333.00" stroke="#666" stroke-width="1"/>
<rect x="623.50" y="291.40" width="20.00" height="41.60" fill="#8598FA" stroke="#262626" stroke-width="1"/>
<line x1="623.00" y1="291.65" x2="644.00" y2="291.65" stroke="#111" stroke-width="1.3"/>
<rect x="648.50" y="321.30" width="21.00" height="11.70" fill="#FECC94" stroke="#262626" stroke-width="1"/>
<line x1="648.00" y1="321.55" x2="670.00" y2="321.55" stroke="#111" stroke-width="1.3"/>
<line x1="610.60" y1="333.50" x2="670.10" y2="333.50" stroke="#444" stroke-width="1.2"/>
<line x1="633.50" y1="333.00" x2="633.50" y2="336.50" stroke="#3a3a3a" stroke-width="1"/>
<line x1="658.50" y1="333.00" x2="658.50" y2="336.50" stroke="#3a3a3a" stroke-width="1"/>
<line x1="633.50" y1="281.20" x2="633.50" y2="300.80" stroke="#777" stroke-width="0.8"/>
<line x1="628.17" y1="281.50" x2="639.13" y2="281.50" stroke="#777" stroke-width="0.8"/>
<line x1="628.17" y1="300.50" x2="639.13" y2="300.50" stroke="#777" stroke-width="0.8"/>
<circle cx="633.65" cy="282.30" r="1.7" fill="#1a44ff"/>
<circle cx="633.65" cy="287.50" r="1.7" fill="#1a44ff"/>
<circle cx="633.65" cy="301.90" r="1.7" fill="#1a44ff"/>
<line x1="658.50" y1="316.10" x2="658.50" y2="326.70" stroke="#777" stroke-width="0.8"/>
<line x1="653.37" y1="316.50" x2="664.33" y2="316.50" stroke="#777" stroke-width="0.8"/>
<line x1="653.37" y1="326.50" x2="664.33" y2="326.50" stroke="#777" stroke-width="0.8"/>
<circle cx="658.85" cy="317.00" r="1.7" fill="#d9800f"/>
<circle cx="658.85" cy="320.50" r="1.7" fill="#d9800f"/>
<circle cx="658.85" cy="326.00" r="1.7" fill="#d9800f"/>
<path d="M633.50,281.00 V272.50 H658.50 V311.60" fill="none" stroke="#333" stroke-width="1"/>
<text x="646.20" y="272.68" font-size="10" text-anchor="middle" fill="#000" font-weight="bold" letter-spacing="0">*</text>
<text x="0" y="0" font-size="11.6" text-anchor="end" fill="#111" transform="translate(635.20,342.60) rotate(-30)">Cont.</text>
<text x="0" y="0" font-size="11.6" text-anchor="end" fill="#111" transform="translate(662.30,344.60) rotate(-30)">shZNF217</text>
<text x="56.80" y="567.68" font-size="11.4" text-anchor="end" fill="#111" >shZNF217</text>
<text x="0" y="0" font-size="11.4" text-anchor="middle" fill="#111" transform="translate(24.70,506.30) rotate(-90)" dy="3.99">Cells / field</text>
<text x="85.90" y="442.11" font-size="12.3" text-anchor="middle" fill="#111" >OVCA420</text>
<text x="0" y="0" font-size="8.95" text-anchor="end" fill="#1a1a1a" stroke-width="0.08" transform="translate(50.20,554.28) scale(1,1.08)">0</text>
<line x1="52.70" y1="529.50" x2="55.30" y2="529.50" stroke="#3a3a3a" stroke-width="1"/>
<text x="0" y="0" font-size="8.95" text-anchor="end" fill="#1a1a1a" stroke-width="0.08" transform="translate(50.20,533.18) scale(1,1.08)">100</text>
<line x1="52.70" y1="508.50" x2="55.30" y2="508.50" stroke="#3a3a3a" stroke-width="1"/>
<text x="0" y="0" font-size="8.95" text-anchor="end" fill="#1a1a1a" stroke-width="0.08" transform="translate(50.20,512.08) scale(1,1.08)">200</text>
<line x1="52.70" y1="487.50" x2="55.30" y2="487.50" stroke="#3a3a3a" stroke-width="1"/>
<text x="0" y="0" font-size="8.95" text-anchor="end" fill="#1a1a1a" stroke-width="0.08" transform="translate(50.20,490.98) scale(1,1.08)">300</text>
<line x1="52.70" y1="466.50" x2="55.30" y2="466.50" stroke="#3a3a3a" stroke-width="1"/>
<text x="0" y="0" font-size="8.95" text-anchor="end" fill="#1a1a1a" stroke-width="0.08" transform="translate(50.20,469.88) scale(1,1.08)">400</text>
<line x1="55.50" y1="465.90" x2="55.50" y2="550.80" stroke="#666" stroke-width="1"/>
<rect x="67.50" y="487.50" width="22.00" height="63.30" fill="#8598FA" stroke="#262626" stroke-width="1"/>
<line x1="67.00" y1="487.75" x2="90.00" y2="487.75" stroke="#111" stroke-width="1.3"/>
<rect x="95.50" y="524.90" width="22.00" height="25.90" fill="#FECC94" stroke="#262626" stroke-width="1"/>
<line x1="95.00" y1="525.15" x2="118.00" y2="525.15" stroke="#111" stroke-width="1.3"/>
<line x1="51.30" y1="550.50" x2="119.50" y2="550.50" stroke="#444" stroke-width="1.2"/>
<line x1="78.50" y1="550.80" x2="78.50" y2="554.30" stroke="#3a3a3a" stroke-width="1"/>
<line x1="106.50" y1="550.80" x2="106.50" y2="554.30" stroke="#3a3a3a" stroke-width="1"/>
<line x1="78.50" y1="482.10" x2="78.50" y2="490.80" stroke="#777" stroke-width="0.8"/>
<line x1="72.35" y1="482.50" x2="84.45" y2="482.50" stroke="#777" stroke-width="0.8"/>
<line x1="72.35" y1="490.50" x2="84.45" y2="490.50" stroke="#777" stroke-width="0.8"/>
<circle cx="78.40" cy="482.00" r="1.7" fill="#1a44ff"/>
<circle cx="75.40" cy="489.50" r="1.7" fill="#1a44ff"/>
<circle cx="81.40" cy="489.00" r="1.7" fill="#1a44ff"/>
<line x1="106.50" y1="515.20" x2="106.50" y2="532.60" stroke="#777" stroke-width="0.8"/>
<line x1="100.25" y1="515.50" x2="112.35" y2="515.50" stroke="#777" stroke-width="0.8"/>
<line x1="100.25" y1="532.50" x2="112.35" y2="532.50" stroke="#777" stroke-width="0.8"/>
<circle cx="106.30" cy="515.50" r="1.7" fill="#d9800f"/>
<circle cx="106.30" cy="526.00" r="1.7" fill="#d9800f"/>
<circle cx="106.30" cy="531.50" r="1.7" fill="#d9800f"/>
<line x1="80.90" y1="476.00" x2="102.10" y2="476.00" stroke="#111" stroke-width="2"/>
<text x="92.55" y="474.24" font-size="13" text-anchor="middle" fill="#000" font-weight="bold" letter-spacing="1.3">*</text>
<line x1="71.00" y1="563.50" x2="84.90" y2="563.50" stroke="#111" stroke-width="1.3"/>
<line x1="102.90" y1="562.50" x2="112.80" y2="562.50" stroke="#111" stroke-width="1.25"/>
<line x1="107.50" y1="557.50" x2="107.50" y2="567.70" stroke="#111" stroke-width="1.25"/>
<text x="183.50" y="441.71" font-size="12.3" text-anchor="middle" fill="#111" >TYK-Nu</text>
<text x="0" y="0" font-size="8.95" text-anchor="end" fill="#1a1a1a" stroke-width="0.08" transform="translate(146.60,554.28) scale(1,1.08)">0</text>
<line x1="148.70" y1="529.50" x2="151.30" y2="529.50" stroke="#3a3a3a" stroke-width="1"/>
<text x="0" y="0" font-size="8.95" text-anchor="end" fill="#1a1a1a" stroke-width="0.08" transform="translate(146.60,533.06) scale(1,1.08)">500</text>
<line x1="148.70" y1="508.50" x2="151.30" y2="508.50" stroke="#3a3a3a" stroke-width="1"/>
<text x="0" y="0" font-size="8.95" text-anchor="end" fill="#1a1a1a" stroke-width="0.08" transform="translate(146.60,511.83) scale(1,1.08)">1000</text>
<line x1="148.70" y1="487.50" x2="151.30" y2="487.50" stroke="#3a3a3a" stroke-width="1"/>
<text x="0" y="0" font-size="8.95" text-anchor="end" fill="#1a1a1a" stroke-width="0.08" transform="translate(146.60,490.61) scale(1,1.08)">1500</text>
<line x1="148.70" y1="465.50" x2="151.30" y2="465.50" stroke="#3a3a3a" stroke-width="1"/>
<text x="0" y="0" font-size="8.95" text-anchor="end" fill="#1a1a1a" stroke-width="0.08" transform="translate(146.60,469.38) scale(1,1.08)">2000</text>
<line x1="151.50" y1="465.40" x2="151.50" y2="550.80" stroke="#666" stroke-width="1"/>
<rect x="163.50" y="480.40" width="23.00" height="70.40" fill="#8598FA" stroke="#262626" stroke-width="1"/>
<line x1="163.00" y1="480.65" x2="187.00" y2="480.65" stroke="#111" stroke-width="1.3"/>
<rect x="191.50" y="515.20" width="23.00" height="35.60" fill="#FECC94" stroke="#262626" stroke-width="1"/>
<line x1="191.00" y1="515.45" x2="215.00" y2="515.45" stroke="#111" stroke-width="1.3"/>
<line x1="148.30" y1="550.50" x2="220.70" y2="550.50" stroke="#444" stroke-width="1.2"/>
<line x1="174.50" y1="550.80" x2="174.50" y2="554.30" stroke="#3a3a3a" stroke-width="1"/>
<line x1="203.50" y1="550.80" x2="203.50" y2="554.30" stroke="#3a3a3a" stroke-width="1"/>
<line x1="174.50" y1="475.00" x2="174.50" y2="484.40" stroke="#777" stroke-width="0.8"/>
<line x1="168.71" y1="475.50" x2="181.19" y2="475.50" stroke="#777" stroke-width="0.8"/>
<line x1="168.71" y1="484.50" x2="181.19" y2="484.50" stroke="#777" stroke-width="0.8"/>
<circle cx="174.95" cy="474.00" r="1.7" fill="#1a44ff"/>
<circle cx="177.95" cy="481.00" r="1.7" fill="#1a44ff"/>
<circle cx="171.95" cy="483.00" r="1.7" fill="#1a44ff"/>
<line x1="203.50" y1="511.20" x2="203.50" y2="518.70" stroke="#777" stroke-width="0.8"/>
<line x1="196.84" y1="511.50" x2="209.36" y2="511.50" stroke="#777" stroke-width="0.8"/>
<line x1="196.84" y1="518.50" x2="209.36" y2="518.50" stroke="#777" stroke-width="0.8"/>
<circle cx="200.10" cy="511.20" r="1.7" fill="#d9800f"/>
<circle cx="206.10" cy="514.00" r="1.7" fill="#d9800f"/>
<circle cx="203.10" cy="518.70" r="1.7" fill="#d9800f"/>
<path d="M174.50,474.00 V464.50 H203.50 V506.60" fill="none" stroke="#333" stroke-width="1"/>
<text x="190.15" y="463.74" font-size="13" text-anchor="middle" fill="#000" font-weight="bold" letter-spacing="1.3">*</text>
<line x1="168.00" y1="563.50" x2="181.80" y2="563.50" stroke="#111" stroke-width="1.3"/>
<line x1="200.00" y1="562.50" x2="209.80" y2="562.50" stroke="#111" stroke-width="1.25"/>
<line x1="204.50" y1="557.50" x2="204.50" y2="567.70" stroke="#111" stroke-width="1.25"/>
<text x="279.50" y="441.71" font-size="12.3" text-anchor="middle" fill="#111" >OVCAR4</text>
<text x="0" y="0" font-size="8.95" text-anchor="end" fill="#1a1a1a" stroke-width="0.08" transform="translate(246.60,555.48) scale(1,1.08)">0</text>
<line x1="248.70" y1="535.50" x2="251.30" y2="535.50" stroke="#3a3a3a" stroke-width="1"/>
<text x="0" y="0" font-size="8.95" text-anchor="end" fill="#1a1a1a" stroke-width="0.08" transform="translate(246.60,538.54) scale(1,1.08)">500</text>
<line x1="248.70" y1="518.50" x2="251.30" y2="518.50" stroke="#3a3a3a" stroke-width="1"/>
<text x="0" y="0" font-size="8.95" text-anchor="end" fill="#1a1a1a" stroke-width="0.08" transform="translate(246.60,521.60) scale(1,1.08)">1000</text>
<line x1="248.70" y1="501.50" x2="251.30" y2="501.50" stroke="#3a3a3a" stroke-width="1"/>
<text x="0" y="0" font-size="8.95" text-anchor="end" fill="#1a1a1a" stroke-width="0.08" transform="translate(246.60,504.66) scale(1,1.08)">1500</text>
<line x1="248.70" y1="484.50" x2="251.30" y2="484.50" stroke="#3a3a3a" stroke-width="1"/>
<text x="0" y="0" font-size="8.95" text-anchor="end" fill="#1a1a1a" stroke-width="0.08" transform="translate(246.60,487.72) scale(1,1.08)">2000</text>
<line x1="248.70" y1="467.50" x2="251.30" y2="467.50" stroke="#3a3a3a" stroke-width="1"/>
<text x="0" y="0" font-size="8.95" text-anchor="end" fill="#1a1a1a" stroke-width="0.08" transform="translate(246.60,470.78) scale(1,1.08)">2500</text>
<line x1="251.50" y1="466.80" x2="251.50" y2="552.00" stroke="#666" stroke-width="1"/>
<rect x="264.50" y="485.40" width="23.00" height="66.60" fill="#8598FA" stroke="#262626" stroke-width="1"/>
<line x1="264.00" y1="485.65" x2="288.00" y2="485.65" stroke="#111" stroke-width="1.3"/>
<rect x="293.50" y="511.20" width="23.00" height="40.80" fill="#FECC94" stroke="#262626" stroke-width="1"/>
<line x1="293.00" y1="511.45" x2="317.00" y2="511.45" stroke="#111" stroke-width="1.3"/>
<line x1="248.30" y1="552.50" x2="319.70" y2="552.50" stroke="#444" stroke-width="1.2"/>
<line x1="275.50" y1="552.00" x2="275.50" y2="555.50" stroke="#3a3a3a" stroke-width="1"/>
<line x1="304.50" y1="552.00" x2="304.50" y2="555.50" stroke="#3a3a3a" stroke-width="1"/>
<line x1="275.50" y1="479.00" x2="275.50" y2="490.90" stroke="#777" stroke-width="0.8"/>
<line x1="269.40" y1="479.50" x2="282.10" y2="479.50" stroke="#777" stroke-width="0.8"/>
<line x1="269.40" y1="490.50" x2="282.10" y2="490.50" stroke="#777" stroke-width="0.8"/>
<circle cx="275.75" cy="479.00" r="1.7" fill="#1a44ff"/>
<circle cx="275.75" cy="485.50" r="1.7" fill="#1a44ff"/>
<circle cx="275.75" cy="490.50" r="1.7" fill="#1a44ff"/>
<line x1="304.50" y1="506.60" x2="304.50" y2="514.60" stroke="#777" stroke-width="0.8"/>
<line x1="298.53" y1="506.50" x2="311.27" y2="506.50" stroke="#777" stroke-width="0.8"/>
<line x1="298.53" y1="514.50" x2="311.27" y2="514.50" stroke="#777" stroke-width="0.8"/>
<circle cx="301.90" cy="507.50" r="1.7" fill="#d9800f"/>
<circle cx="307.90" cy="508.50" r="1.7" fill="#d9800f"/>
<circle cx="304.90" cy="514.00" r="1.7" fill="#d9800f"/>
<path d="M275.50,478.00 V468.50 H304.50 V501.50" fill="none" stroke="#333" stroke-width="1"/>
<text x="289.95" y="465.74" font-size="13" text-anchor="middle" fill="#000" font-weight="bold" letter-spacing="1.3">*</text>
<line x1="269.60" y1="564.50" x2="283.30" y2="564.50" stroke="#111" stroke-width="1.3"/>
<line x1="301.10" y1="564.50" x2="311.00" y2="564.50" stroke="#111" stroke-width="1.25"/>
<line x1="306.50" y1="559.10" x2="306.50" y2="569.00" stroke="#111" stroke-width="1.25"/>
<text x="379.30" y="441.71" font-size="12.3" text-anchor="middle" fill="#111" >OVCAR8</text>
<text x="0" y="0" font-size="8.95" text-anchor="end" fill="#1a1a1a" stroke-width="0.08" transform="translate(347.20,554.78) scale(1,1.08)">0</text>
<line x1="350.30" y1="530.50" x2="352.90" y2="530.50" stroke="#3a3a3a" stroke-width="1"/>
<text x="0" y="0" font-size="8.95" text-anchor="end" fill="#1a1a1a" stroke-width="0.08" transform="translate(347.20,533.78) scale(1,1.08)">500</text>
<line x1="350.30" y1="509.50" x2="352.90" y2="509.50" stroke="#3a3a3a" stroke-width="1"/>
<text x="0" y="0" font-size="8.95" text-anchor="end" fill="#1a1a1a" stroke-width="0.08" transform="translate(347.20,512.78) scale(1,1.08)">1000</text>
<line x1="350.30" y1="488.50" x2="352.90" y2="488.50" stroke="#3a3a3a" stroke-width="1"/>
<text x="0" y="0" font-size="8.95" text-anchor="end" fill="#1a1a1a" stroke-width="0.08" transform="translate(347.20,491.78) scale(1,1.08)">1500</text>
<line x1="350.30" y1="467.50" x2="352.90" y2="467.50" stroke="#3a3a3a" stroke-width="1"/>
<text x="0" y="0" font-size="8.95" text-anchor="end" fill="#1a1a1a" stroke-width="0.08" transform="translate(347.20,470.78) scale(1,1.08)">2000</text>
<line x1="352.50" y1="466.80" x2="352.50" y2="551.30" stroke="#666" stroke-width="1"/>
<rect x="364.50" y="478.80" width="22.00" height="72.50" fill="#8598FA" stroke="#262626" stroke-width="1"/>
<line x1="364.00" y1="479.05" x2="387.00" y2="479.05" stroke="#111" stroke-width="1.3"/>
<rect x="392.50" y="500.50" width="22.00" height="50.80" fill="#FECC94" stroke="#262626" stroke-width="1"/>
<line x1="392.00" y1="500.75" x2="415.00" y2="500.75" stroke="#111" stroke-width="1.3"/>
<line x1="349.30" y1="551.50" x2="421.70" y2="551.50" stroke="#444" stroke-width="1.2"/>
<line x1="375.50" y1="551.30" x2="375.50" y2="554.80" stroke="#3a3a3a" stroke-width="1"/>
<line x1="403.50" y1="551.30" x2="403.50" y2="554.80" stroke="#3a3a3a" stroke-width="1"/>
<line x1="375.50" y1="473.40" x2="375.50" y2="482.80" stroke="#777" stroke-width="0.8"/>
<line x1="369.57" y1="473.50" x2="381.72" y2="473.50" stroke="#777" stroke-width="0.8"/>
<line x1="369.57" y1="482.50" x2="381.72" y2="482.50" stroke="#777" stroke-width="0.8"/>
<circle cx="375.65" cy="473.40" r="1.7" fill="#1a44ff"/>
<circle cx="375.65" cy="478.50" r="1.7" fill="#1a44ff"/>
<circle cx="375.65" cy="482.50" r="1.7" fill="#1a44ff"/>
<line x1="403.50" y1="496.10" x2="403.50" y2="503.60" stroke="#777" stroke-width="0.8"/>
<line x1="397.21" y1="496.50" x2="409.19" y2="496.50" stroke="#777" stroke-width="0.8"/>
<line x1="397.21" y1="503.50" x2="409.19" y2="503.50" stroke="#777" stroke-width="0.8"/>
<circle cx="400.20" cy="496.50" r="1.7" fill="#d9800f"/>
<circle cx="406.20" cy="498.50" r="1.7" fill="#d9800f"/>
<circle cx="403.20" cy="503.50" r="1.7" fill="#d9800f"/>
<path d="M375.50,473.00 V463.50 H403.50 V490.90" fill="none" stroke="#333" stroke-width="1"/>
<text x="390.95" y="461.34" font-size="13" text-anchor="middle" fill="#000" font-weight="bold" letter-spacing="1.3">*</text>
<line x1="369.10" y1="566.50" x2="382.70" y2="566.50" stroke="#111" stroke-width="1.3"/>
<line x1="400.30" y1="565.50" x2="410.20" y2="565.50" stroke="#111" stroke-width="1.25"/>
<line x1="405.50" y1="560.30" x2="405.50" y2="570.60" stroke="#111" stroke-width="1.25"/>
<text x="0" y="0" font-size="11.4" text-anchor="middle" fill="#111" transform="translate(7.90,735.60) rotate(-90)" dy="3.99">Cells / field</text>
<text x="81.80" y="657.85" font-size="12.35" text-anchor="middle" fill="#111" >OVCA420</text>
<text x="0" y="0" font-size="9.0" text-anchor="end" fill="#1a1a1a" stroke-width="0.08" transform="translate(38.10,790.00) scale(1,1.08)">0</text>
<line x1="40.40" y1="761.50" x2="43.00" y2="761.50" stroke="#3a3a3a" stroke-width="1"/>
<text x="0" y="0" font-size="9.0" text-anchor="end" fill="#1a1a1a" stroke-width="0.08" transform="translate(38.10,765.35) scale(1,1.08)">500</text>
<line x1="40.40" y1="737.50" x2="43.00" y2="737.50" stroke="#3a3a3a" stroke-width="1"/>
<text x="0" y="0" font-size="9.0" text-anchor="end" fill="#1a1a1a" stroke-width="0.08" transform="translate(38.10,740.70) scale(1,1.08)">1000</text>
<line x1="40.40" y1="712.50" x2="43.00" y2="712.50" stroke="#3a3a3a" stroke-width="1"/>
<text x="0" y="0" font-size="9.0" text-anchor="end" fill="#1a1a1a" stroke-width="0.08" transform="translate(38.10,716.05) scale(1,1.08)">1500</text>
<line x1="40.40" y1="687.50" x2="43.00" y2="687.50" stroke="#3a3a3a" stroke-width="1"/>
<text x="0" y="0" font-size="9.0" text-anchor="end" fill="#1a1a1a" stroke-width="0.08" transform="translate(38.10,691.40) scale(1,1.08)">2000</text>
<line x1="43.50" y1="687.40" x2="43.50" y2="786.50" stroke="#666" stroke-width="1"/>
<rect x="52.50" y="762.30" width="15.00" height="24.20" fill="#8598FA" stroke="#262626" stroke-width="1"/>
<line x1="52.00" y1="762.55" x2="68.00" y2="762.55" stroke="#111" stroke-width="1.3"/>
<rect x="71.50" y="776.40" width="15.00" height="10.10" fill="#FECC94" stroke="#262626" stroke-width="1"/>
<line x1="71.00" y1="776.65" x2="87.00" y2="776.65" stroke="#111" stroke-width="1.3"/>
<rect x="90.50" y="711.50" width="15.00" height="75.00" fill="#8598FA" stroke="#262626" stroke-width="1"/>
<line x1="90.00" y1="711.75" x2="106.00" y2="711.75" stroke="#111" stroke-width="1.3"/>
<line x1="40.20" y1="786.50" x2="109.50" y2="786.50" stroke="#444" stroke-width="1.2"/>
<line x1="59.50" y1="786.50" x2="59.50" y2="790.00" stroke="#3a3a3a" stroke-width="1"/>
<line x1="78.50" y1="786.50" x2="78.50" y2="790.00" stroke="#3a3a3a" stroke-width="1"/>
<line x1="97.50" y1="786.50" x2="97.50" y2="790.00" stroke="#3a3a3a" stroke-width="1"/>
<line x1="59.50" y1="758.00" x2="59.50" y2="765.80" stroke="#777" stroke-width="0.8"/>
<line x1="55.70" y1="758.50" x2="63.90" y2="758.50" stroke="#777" stroke-width="0.8"/>
<line x1="55.70" y1="765.50" x2="63.90" y2="765.50" stroke="#777" stroke-width="0.8"/>
<circle cx="59.80" cy="757.10" r="1.7" fill="#1a44ff"/>
<circle cx="57.30" cy="765.50" r="1.7" fill="#1a44ff"/>
<circle cx="62.30" cy="763.00" r="1.7" fill="#1a44ff"/>
<line x1="78.50" y1="774.50" x2="78.50" y2="777.50" stroke="#777" stroke-width="0.8"/>
<line x1="74.50" y1="774.50" x2="82.70" y2="774.50" stroke="#777" stroke-width="0.8"/>
<line x1="74.50" y1="777.50" x2="82.70" y2="777.50" stroke="#777" stroke-width="0.8"/>
<circle cx="72.60" cy="777.50" r="1.7" fill="#d9800f"/>
<circle cx="78.60" cy="774.50" r="1.7" fill="#d9800f"/>
<circle cx="84.60" cy="775.50" r="1.7" fill="#d9800f"/>
<line x1="97.50" y1="706.30" x2="97.50" y2="715.90" stroke="#777" stroke-width="0.8"/>
<line x1="93.74" y1="706.50" x2="102.06" y2="706.50" stroke="#777" stroke-width="0.8"/>
<line x1="93.74" y1="715.50" x2="102.06" y2="715.50" stroke="#777" stroke-width="0.8"/>
<circle cx="97.90" cy="705.90" r="1.7" fill="#1a44ff"/>
<circle cx="95.40" cy="715.00" r="1.7" fill="#1a44ff"/>
<circle cx="100.40" cy="713.00" r="1.7" fill="#1a44ff"/>
<line x1="59.20" y1="749.70" x2="75.00" y2="749.70" stroke="#111" stroke-width="2"/>
<text x="68.25" y="749.84" font-size="13" text-anchor="middle" fill="#000" font-weight="bold" letter-spacing="1.3">*</text>
<line x1="81.50" y1="697.00" x2="96.70" y2="697.00" stroke="#111" stroke-width="2"/>
<text x="91.65" y="696.94" font-size="13" text-anchor="middle" fill="#000" font-weight="bold" letter-spacing="1.3">**</text>
<text x="0" y="0" font-size="11.6" text-anchor="end" fill="#111" transform="translate(60.10,796.80) rotate(-28)">Cont</text>
<text x="0" y="0" font-size="11.6" text-anchor="end" fill="#111" transform="translate(79.00,800.30) rotate(-28)">shZNF217</text>
<text x="0" y="0" font-size="11.6" text-anchor="end" fill="#111" transform="translate(100.20,801.90) rotate(-28)">shZNF217 + WT</text>
<text x="177.40" y="656.75" font-size="12.35" text-anchor="middle" fill="#111" >TYK-Nu</text>
<text x="0" y="0" font-size="9.0" text-anchor="end" fill="#1a1a1a" stroke-width="0.08" transform="translate(138.70,790.10) scale(1,1.08)">0</text>
<line x1="140.10" y1="761.50" x2="142.70" y2="761.50" stroke="#3a3a3a" stroke-width="1"/>
<text x="0" y="0" font-size="9.0" text-anchor="end" fill="#1a1a1a" stroke-width="0.08" transform="translate(138.70,765.15) scale(1,1.08)">500</text>
<line x1="140.10" y1="736.50" x2="142.70" y2="736.50" stroke="#3a3a3a" stroke-width="1"/>
<text x="0" y="0" font-size="9.0" text-anchor="end" fill="#1a1a1a" stroke-width="0.08" transform="translate(138.70,740.20) scale(1,1.08)">1000</text>
<line x1="140.10" y1="711.50" x2="142.70" y2="711.50" stroke="#3a3a3a" stroke-width="1"/>
<text x="0" y="0" font-size="9.0" text-anchor="end" fill="#1a1a1a" stroke-width="0.08" transform="translate(138.70,715.25) scale(1,1.08)">1500</text>
<line x1="140.10" y1="686.50" x2="142.70" y2="686.50" stroke="#3a3a3a" stroke-width="1"/>
<text x="0" y="0" font-size="9.0" text-anchor="end" fill="#1a1a1a" stroke-width="0.08" transform="translate(138.70,690.30) scale(1,1.08)">2000</text>
<line x1="142.50" y1="686.30" x2="142.50" y2="786.60" stroke="#666" stroke-width="1"/>
<rect x="152.50" y="744.90" width="15.00" height="41.70" fill="#8598FA" stroke="#262626" stroke-width="1"/>
<line x1="152.00" y1="745.15" x2="168.00" y2="745.15" stroke="#111" stroke-width="1.3"/>
<rect x="171.50" y="757.40" width="15.00" height="29.20" fill="#FECC94" stroke="#262626" stroke-width="1"/>
<line x1="171.00" y1="757.65" x2="187.00" y2="757.65" stroke="#111" stroke-width="1.3"/>
<rect x="191.50" y="702.10" width="15.00" height="84.50" fill="#8598FA" stroke="#262626" stroke-width="1"/>
<line x1="191.00" y1="702.35" x2="207.00" y2="702.35" stroke="#111" stroke-width="1.3"/>
<line x1="139.30" y1="786.50" x2="209.80" y2="786.50" stroke="#444" stroke-width="1.2"/>
<line x1="159.50" y1="786.60" x2="159.50" y2="790.10" stroke="#3a3a3a" stroke-width="1"/>
<line x1="179.50" y1="786.60" x2="179.50" y2="790.10" stroke="#3a3a3a" stroke-width="1"/>
<line x1="198.50" y1="786.60" x2="198.50" y2="790.10" stroke="#3a3a3a" stroke-width="1"/>
<line x1="159.50" y1="739.40" x2="159.50" y2="749.30" stroke="#777" stroke-width="0.8"/>
<line x1="155.56" y1="739.50" x2="163.94" y2="739.50" stroke="#777" stroke-width="0.8"/>
<line x1="155.56" y1="749.50" x2="163.94" y2="749.50" stroke="#777" stroke-width="0.8"/>
<circle cx="156.75" cy="739.50" r="1.7" fill="#1a44ff"/>
<circle cx="162.75" cy="743.00" r="1.7" fill="#1a44ff"/>
<circle cx="159.75" cy="750.00" r="1.7" fill="#1a44ff"/>
<line x1="179.50" y1="755.50" x2="179.50" y2="759.00" stroke="#777" stroke-width="0.8"/>
<line x1="175.00" y1="755.50" x2="183.20" y2="755.50" stroke="#777" stroke-width="0.8"/>
<line x1="175.00" y1="759.50" x2="183.20" y2="759.50" stroke="#777" stroke-width="0.8"/>
<circle cx="173.10" cy="758.50" r="1.7" fill="#d9800f"/>
<circle cx="179.10" cy="755.00" r="1.7" fill="#d9800f"/>
<circle cx="185.10" cy="757.50" r="1.7" fill="#d9800f"/>
<line x1="198.50" y1="696.10" x2="198.50" y2="706.60" stroke="#777" stroke-width="0.8"/>
<line x1="194.62" y1="696.50" x2="202.88" y2="696.50" stroke="#777" stroke-width="0.8"/>
<line x1="194.62" y1="706.50" x2="202.88" y2="706.50" stroke="#777" stroke-width="0.8"/>
<circle cx="198.75" cy="695.50" r="1.7" fill="#1a44ff"/>
<circle cx="196.25" cy="704.50" r="1.7" fill="#1a44ff"/>
<circle cx="201.25" cy="704.00" r="1.7" fill="#1a44ff"/>
<line x1="159.00" y1="731.40" x2="176.00" y2="731.40" stroke="#111" stroke-width="2"/>
<text x="168.45" y="730.84" font-size="13" text-anchor="middle" fill="#000" font-weight="bold" letter-spacing="1.3">*</text>
<line x1="182.60" y1="689.90" x2="199.40" y2="689.90" stroke="#111" stroke-width="2"/>
<text x="192.15" y="689.54" font-size="13" text-anchor="middle" fill="#000" font-weight="bold" letter-spacing="1.3">*</text>
<text x="191.95" y="710.14" font-size="13" text-anchor="middle" fill="#000" font-weight="bold" letter-spacing="1.3">*</text>
<text x="0" y="0" font-size="11.6" text-anchor="end" fill="#111" transform="translate(158.40,798.90) rotate(-28)">Cont</text>
<text x="0" y="0" font-size="11.6" text-anchor="end" fill="#111" transform="translate(179.40,802.00) rotate(-28)">shZNF217</text>
<text x="0" y="0" font-size="11.6" text-anchor="end" fill="#111" transform="translate(201.40,803.80) rotate(-28)">shZNF217 + WT</text>
<text x="0" y="0" font-size="11.4" text-anchor="middle" fill="#111" transform="translate(239.90,734.40) rotate(-90)" dy="3.99">Cells / field</text>
<text x="306.00" y="657.61" font-size="12.3" text-anchor="middle" fill="#111" >OVCA420</text>
<text x="0" y="0" font-size="9.0" text-anchor="end" fill="#1a1a1a" stroke-width="0.08" transform="translate(268.90,790.60) scale(1,1.08)">0</text>
<line x1="270.70" y1="753.50" x2="273.30" y2="753.50" stroke="#3a3a3a" stroke-width="1"/>
<text x="0" y="0" font-size="9.0" text-anchor="end" fill="#1a1a1a" stroke-width="0.08" transform="translate(268.90,756.64) scale(1,1.08)">500</text>
<line x1="270.70" y1="719.50" x2="273.30" y2="719.50" stroke="#3a3a3a" stroke-width="1"/>
<text x="0" y="0" font-size="9.0" text-anchor="end" fill="#1a1a1a" stroke-width="0.08" transform="translate(268.90,722.67) scale(1,1.08)">1000</text>
<line x1="270.70" y1="685.50" x2="273.30" y2="685.50" stroke="#3a3a3a" stroke-width="1"/>
<text x="0" y="0" font-size="9.0" text-anchor="end" fill="#1a1a1a" stroke-width="0.08" transform="translate(268.90,688.70) scale(1,1.08)">1500</text>
<line x1="273.50" y1="684.70" x2="273.50" y2="787.10" stroke="#666" stroke-width="1"/>
<rect x="282.50" y="766.90" width="17.00" height="20.20" fill="#8598FA" stroke="#262626" stroke-width="1"/>
<line x1="282.00" y1="767.15" x2="300.00" y2="767.15" stroke="#111" stroke-width="1.3"/>
<rect x="303.50" y="784.70" width="16.00" height="2.40" fill="#FECC94" stroke="#262626" stroke-width="1"/>
<line x1="303.00" y1="784.95" x2="320.00" y2="784.95" stroke="#111" stroke-width="1.3"/>
<rect x="324.50" y="723.10" width="16.00" height="64.00" fill="#8598FA" stroke="#262626" stroke-width="1"/>
<line x1="324.00" y1="723.35" x2="341.00" y2="723.35" stroke="#111" stroke-width="1.3"/>
<line x1="269.90" y1="787.50" x2="345.50" y2="787.50" stroke="#444" stroke-width="1.2"/>
<line x1="291.50" y1="787.10" x2="291.50" y2="790.60" stroke="#3a3a3a" stroke-width="1"/>
<line x1="311.50" y1="787.10" x2="311.50" y2="790.60" stroke="#3a3a3a" stroke-width="1"/>
<line x1="332.50" y1="787.10" x2="332.50" y2="790.60" stroke="#3a3a3a" stroke-width="1"/>
<line x1="291.50" y1="761.50" x2="291.50" y2="772.90" stroke="#777" stroke-width="0.8"/>
<line x1="286.60" y1="761.50" x2="295.50" y2="761.50" stroke="#777" stroke-width="0.8"/>
<line x1="286.60" y1="772.50" x2="295.50" y2="772.50" stroke="#777" stroke-width="0.8"/>
<circle cx="288.55" cy="762.00" r="1.7" fill="#1a44ff"/>
<circle cx="293.55" cy="764.00" r="1.7" fill="#1a44ff"/>
<circle cx="291.05" cy="773.00" r="1.7" fill="#1a44ff"/>
<line x1="311.50" y1="783.50" x2="311.50" y2="785.50" stroke="#777" stroke-width="0.8"/>
<line x1="307.35" y1="783.50" x2="316.15" y2="783.50" stroke="#777" stroke-width="0.8"/>
<line x1="307.35" y1="785.50" x2="316.15" y2="785.50" stroke="#777" stroke-width="0.8"/>
<circle cx="305.75" cy="785.50" r="1.7" fill="#d9800f"/>
<circle cx="311.75" cy="783.50" r="1.7" fill="#d9800f"/>
<circle cx="317.75" cy="785.00" r="1.7" fill="#d9800f"/>
<line x1="332.50" y1="715.30" x2="332.50" y2="729.80" stroke="#777" stroke-width="0.8"/>
<line x1="328.40" y1="715.50" x2="337.10" y2="715.50" stroke="#777" stroke-width="0.8"/>
<line x1="328.40" y1="729.50" x2="337.10" y2="729.50" stroke="#777" stroke-width="0.8"/>
<circle cx="332.75" cy="715.00" r="1.7" fill="#1a44ff"/>
<circle cx="330.25" cy="727.00" r="1.7" fill="#1a44ff"/>
<circle cx="335.25" cy="726.00" r="1.7" fill="#1a44ff"/>
<line x1="315.20" y1="708.90" x2="331.80" y2="708.90" stroke="#111" stroke-width="2"/>
<text x="324.55" y="706.44" font-size="13" text-anchor="middle" fill="#000" font-weight="bold" letter-spacing="1.3">**</text>
<text x="0" y="0" font-size="11.4" text-anchor="end" fill="#111" transform="translate(292.80,798.40) rotate(-28)">Cont.</text>
<text x="0" y="0" font-size="11.4" text-anchor="end" fill="#111" transform="translate(310.30,802.40) rotate(-28)">shZNF217</text>
<text x="0" y="0" font-size="11.4" text-anchor="end" fill="#111" transform="translate(334.60,804.00) rotate(-28)">shZNF217 + WT</text>
<text x="409.60" y="657.31" font-size="12.3" text-anchor="middle" fill="#111" >TYK-Nu</text>
<text x="0" y="0" font-size="9.0" text-anchor="end" fill="#1a1a1a" stroke-width="0.08" transform="translate(375.10,790.70) scale(1,1.08)">0</text>
<line x1="376.80" y1="766.50" x2="379.40" y2="766.50" stroke="#3a3a3a" stroke-width="1"/>
<text x="0" y="0" font-size="9.0" text-anchor="end" fill="#1a1a1a" stroke-width="0.08" transform="translate(375.10,770.42) scale(1,1.08)">1000</text>
<line x1="376.80" y1="746.50" x2="379.40" y2="746.50" stroke="#3a3a3a" stroke-width="1"/>
<text x="0" y="0" font-size="9.0" text-anchor="end" fill="#1a1a1a" stroke-width="0.08" transform="translate(375.10,750.14) scale(1,1.08)">2000</text>
<line x1="376.80" y1="726.50" x2="379.40" y2="726.50" stroke="#3a3a3a" stroke-width="1"/>
<text x="0" y="0" font-size="9.0" text-anchor="end" fill="#1a1a1a" stroke-width="0.08" transform="translate(375.10,729.86) scale(1,1.08)">3000</text>
<line x1="376.80" y1="706.50" x2="379.40" y2="706.50" stroke="#3a3a3a" stroke-width="1"/>
<text x="0" y="0" font-size="9.0" text-anchor="end" fill="#1a1a1a" stroke-width="0.08" transform="translate(375.10,709.58) scale(1,1.08)">4000</text>
<line x1="376.80" y1="685.50" x2="379.40" y2="685.50" stroke="#3a3a3a" stroke-width="1"/>
<text x="0" y="0" font-size="9.0" text-anchor="end" fill="#1a1a1a" stroke-width="0.08" transform="translate(375.10,689.30) scale(1,1.08)">5000</text>
<line x1="379.50" y1="685.30" x2="379.50" y2="787.20" stroke="#666" stroke-width="1"/>
<rect x="389.50" y="714.60" width="16.00" height="72.60" fill="#8598FA" stroke="#262626" stroke-width="1"/>
<line x1="389.00" y1="714.85" x2="406.00" y2="714.85" stroke="#111" stroke-width="1.3"/>
<rect x="409.50" y="773.50" width="16.00" height="13.70" fill="#FECC94" stroke="#262626" stroke-width="1"/>
<line x1="409.00" y1="773.75" x2="426.00" y2="773.75" stroke="#111" stroke-width="1.3"/>
<rect x="429.50" y="737.20" width="16.00" height="50.00" fill="#8598FA" stroke="#262626" stroke-width="1"/>
<line x1="429.00" y1="737.45" x2="446.00" y2="737.45" stroke="#111" stroke-width="1.3"/>
<line x1="376.40" y1="787.50" x2="451.50" y2="787.50" stroke="#444" stroke-width="1.2"/>
<line x1="397.50" y1="787.20" x2="397.50" y2="790.70" stroke="#3a3a3a" stroke-width="1"/>
<line x1="417.50" y1="787.20" x2="417.50" y2="790.70" stroke="#3a3a3a" stroke-width="1"/>
<line x1="437.50" y1="787.20" x2="437.50" y2="790.70" stroke="#3a3a3a" stroke-width="1"/>
<line x1="397.50" y1="707.00" x2="397.50" y2="721.10" stroke="#777" stroke-width="0.8"/>
<line x1="392.68" y1="707.50" x2="401.32" y2="707.50" stroke="#777" stroke-width="0.8"/>
<line x1="392.68" y1="721.50" x2="401.32" y2="721.50" stroke="#777" stroke-width="0.8"/>
<circle cx="397.00" cy="707.20" r="1.7" fill="#1a44ff"/>
<circle cx="397.00" cy="712.20" r="1.7" fill="#1a44ff"/>
<circle cx="397.00" cy="721.70" r="1.7" fill="#1a44ff"/>
<line x1="417.50" y1="771.50" x2="417.50" y2="775.00" stroke="#777" stroke-width="0.8"/>
<line x1="412.86" y1="771.50" x2="421.44" y2="771.50" stroke="#777" stroke-width="0.8"/>
<line x1="412.86" y1="775.50" x2="421.44" y2="775.50" stroke="#777" stroke-width="0.8"/>
<circle cx="411.15" cy="774.50" r="1.7" fill="#d9800f"/>
<circle cx="417.15" cy="771.50" r="1.7" fill="#d9800f"/>
<circle cx="423.15" cy="773.50" r="1.7" fill="#d9800f"/>
<line x1="437.50" y1="727.30" x2="437.50" y2="745.50" stroke="#777" stroke-width="0.8"/>
<line x1="433.10" y1="727.50" x2="441.80" y2="727.50" stroke="#777" stroke-width="0.8"/>
<line x1="433.10" y1="745.50" x2="441.80" y2="745.50" stroke="#777" stroke-width="0.8"/>
<circle cx="437.45" cy="725.70" r="1.7" fill="#1a44ff"/>
<circle cx="434.95" cy="740.80" r="1.7" fill="#1a44ff"/>
<circle cx="439.95" cy="741.40" r="1.7" fill="#1a44ff"/>
<line x1="421.10" y1="715.00" x2="437.40" y2="715.00" stroke="#111" stroke-width="2"/>
<text x="430.25" y="714.14" font-size="13" text-anchor="middle" fill="#000" font-weight="bold" letter-spacing="1.3">*</text>
<text x="0" y="0" font-size="11.4" text-anchor="end" fill="#111" transform="translate(399.00,799.00) rotate(-28)">Cont.</text>
<text x="0" y="0" font-size="11.4" text-anchor="end" fill="#111" transform="translate(418.80,802.20) rotate(-28)">shZNF217</text>
<text x="0" y="0" font-size="11.4" text-anchor="end" fill="#111" transform="translate(442.30,804.10) rotate(-28)">shZNF217 + WT</text>
<text x="0" y="0" font-size="11.4" text-anchor="middle" fill="#111" transform="translate(477.60,736.00) rotate(-90)" dy="3.99">Cells / field</text>
<text x="543.60" y="657.64" font-size="12.35" text-anchor="middle" fill="#111" >OVCA420</text>
<text x="0" y="0" font-size="9.2" text-anchor="end" fill="#1a1a1a" stroke-width="0.08" transform="translate(504.90,791.08) scale(1,1.08)">0</text>
<line x1="506.60" y1="767.50" x2="509.20" y2="767.50" stroke="#3a3a3a" stroke-width="1"/>
<text x="0" y="0" font-size="9.2" text-anchor="end" fill="#1a1a1a" stroke-width="0.08" transform="translate(504.90,770.96) scale(1,1.08)">200</text>
<line x1="506.60" y1="747.50" x2="509.20" y2="747.50" stroke="#3a3a3a" stroke-width="1"/>
<text x="0" y="0" font-size="9.2" text-anchor="end" fill="#1a1a1a" stroke-width="0.08" transform="translate(504.90,750.84) scale(1,1.08)">400</text>
<line x1="506.60" y1="727.50" x2="509.20" y2="727.50" stroke="#3a3a3a" stroke-width="1"/>
<text x="0" y="0" font-size="9.2" text-anchor="end" fill="#1a1a1a" stroke-width="0.08" transform="translate(504.90,730.72) scale(1,1.08)">600</text>
<line x1="506.60" y1="707.50" x2="509.20" y2="707.50" stroke="#3a3a3a" stroke-width="1"/>
<text x="0" y="0" font-size="9.2" text-anchor="end" fill="#1a1a1a" stroke-width="0.08" transform="translate(504.90,710.60) scale(1,1.08)">800</text>
<line x1="506.60" y1="686.50" x2="509.20" y2="686.50" stroke="#3a3a3a" stroke-width="1"/>
<text x="0" y="0" font-size="9.2" text-anchor="end" fill="#1a1a1a" stroke-width="0.08" transform="translate(504.90,690.48) scale(1,1.08)">1000</text>
<line x1="509.50" y1="686.40" x2="509.50" y2="787.50" stroke="#666" stroke-width="1"/>
<rect x="518.50" y="749.70" width="16.00" height="37.80" fill="#8598FA" stroke="#262626" stroke-width="1"/>
<line x1="518.00" y1="749.95" x2="535.00" y2="749.95" stroke="#111" stroke-width="1.3"/>
<rect x="538.50" y="777.10" width="16.00" height="10.40" fill="#FECC94" stroke="#262626" stroke-width="1"/>
<line x1="538.00" y1="777.35" x2="555.00" y2="777.35" stroke="#111" stroke-width="1.3"/>
<rect x="558.50" y="717.70" width="16.00" height="69.80" fill="#8598FA" stroke="#262626" stroke-width="1"/>
<line x1="558.00" y1="717.95" x2="575.00" y2="717.95" stroke="#111" stroke-width="1.3"/>
<line x1="505.80" y1="787.50" x2="580.00" y2="787.50" stroke="#444" stroke-width="1.2"/>
<line x1="526.50" y1="787.50" x2="526.50" y2="791.00" stroke="#3a3a3a" stroke-width="1"/>
<line x1="546.50" y1="787.50" x2="546.50" y2="791.00" stroke="#3a3a3a" stroke-width="1"/>
<line x1="566.50" y1="787.50" x2="566.50" y2="791.00" stroke="#3a3a3a" stroke-width="1"/>
<line x1="526.50" y1="746.10" x2="526.50" y2="752.70" stroke="#777" stroke-width="0.8"/>
<line x1="522.33" y1="746.50" x2="530.87" y2="746.50" stroke="#777" stroke-width="0.8"/>
<line x1="522.33" y1="752.50" x2="530.87" y2="752.50" stroke="#777" stroke-width="0.8"/>
<circle cx="524.10" cy="746.50" r="1.7" fill="#1a44ff"/>
<circle cx="529.10" cy="748.00" r="1.7" fill="#1a44ff"/>
<circle cx="526.60" cy="752.00" r="1.7" fill="#1a44ff"/>
<line x1="546.50" y1="775.20" x2="546.50" y2="778.00" stroke="#777" stroke-width="0.8"/>
<line x1="542.07" y1="775.50" x2="550.93" y2="775.50" stroke="#777" stroke-width="0.8"/>
<line x1="542.07" y1="778.50" x2="550.93" y2="778.50" stroke="#777" stroke-width="0.8"/>
<circle cx="540.50" cy="778.00" r="1.7" fill="#d9800f"/>
<circle cx="546.50" cy="775.50" r="1.7" fill="#d9800f"/>
<circle cx="552.50" cy="777.00" r="1.7" fill="#d9800f"/>
<line x1="566.50" y1="710.10" x2="566.50" y2="725.00" stroke="#777" stroke-width="0.8"/>
<line x1="562.56" y1="710.50" x2="571.14" y2="710.50" stroke="#777" stroke-width="0.8"/>
<line x1="562.56" y1="725.50" x2="571.14" y2="725.50" stroke="#777" stroke-width="0.8"/>
<circle cx="564.35" cy="710.50" r="1.7" fill="#1a44ff"/>
<circle cx="569.35" cy="714.50" r="1.7" fill="#1a44ff"/>
<circle cx="566.85" cy="725.00" r="1.7" fill="#1a44ff"/>
<line x1="549.90" y1="700.60" x2="567.20" y2="700.60" stroke="#111" stroke-width="2"/>
<text x="560.45" y="698.64" font-size="13" text-anchor="middle" fill="#000" font-weight="bold" letter-spacing="1.3">**</text>
<text x="0" y="0" font-size="11.4" text-anchor="end" fill="#111" transform="translate(528.50,798.80) rotate(-28)">Cont.</text>
<text x="0" y="0" font-size="11.4" text-anchor="end" fill="#111" transform="translate(548.50,802.70) rotate(-28)">shZNF217</text>
<text x="0" y="0" font-size="11.4" text-anchor="end" fill="#111" transform="translate(573.70,804.90) rotate(-28)">shZNF217 + WT</text>
<text x="645.90" y="657.75" font-size="12.35" text-anchor="middle" fill="#111" >TYK-Nu</text>
<text x="0" y="0" font-size="9.2" text-anchor="end" fill="#1a1a1a" stroke-width="0.08" transform="translate(606.70,790.98) scale(1,1.08)">0</text>
<line x1="609.30" y1="761.50" x2="611.90" y2="761.50" stroke="#3a3a3a" stroke-width="1"/>
<text x="0" y="0" font-size="9.2" text-anchor="end" fill="#1a1a1a" stroke-width="0.08" transform="translate(606.70,765.20) scale(1,1.08)">500</text>
<line x1="609.30" y1="735.50" x2="611.90" y2="735.50" stroke="#3a3a3a" stroke-width="1"/>
<text x="0" y="0" font-size="9.2" text-anchor="end" fill="#1a1a1a" stroke-width="0.08" transform="translate(606.70,739.43) scale(1,1.08)">1000</text>
<line x1="609.30" y1="710.50" x2="611.90" y2="710.50" stroke="#3a3a3a" stroke-width="1"/>
<text x="0" y="0" font-size="9.2" text-anchor="end" fill="#1a1a1a" stroke-width="0.08" transform="translate(606.70,713.65) scale(1,1.08)">1500</text>
<line x1="609.30" y1="684.50" x2="611.90" y2="684.50" stroke="#3a3a3a" stroke-width="1"/>
<text x="0" y="0" font-size="9.2" text-anchor="end" fill="#1a1a1a" stroke-width="0.08" transform="translate(606.70,687.88) scale(1,1.08)">2000</text>
<line x1="611.50" y1="683.80" x2="611.50" y2="787.40" stroke="#666" stroke-width="1"/>
<rect x="620.50" y="716.20" width="16.00" height="71.20" fill="#8598FA" stroke="#262626" stroke-width="1"/>
<line x1="620.00" y1="716.45" x2="637.00" y2="716.45" stroke="#111" stroke-width="1.3"/>
<rect x="640.50" y="745.70" width="16.00" height="41.70" fill="#FECC94" stroke="#262626" stroke-width="1"/>
<line x1="640.00" y1="745.95" x2="657.00" y2="745.95" stroke="#111" stroke-width="1.3"/>
<rect x="660.50" y="711.50" width="16.00" height="75.90" fill="#8598FA" stroke="#262626" stroke-width="1"/>
<line x1="660.00" y1="711.75" x2="677.00" y2="711.75" stroke="#111" stroke-width="1.3"/>
<line x1="607.30" y1="787.50" x2="682.40" y2="787.50" stroke="#444" stroke-width="1.2"/>
<line x1="628.50" y1="787.40" x2="628.50" y2="790.90" stroke="#3a3a3a" stroke-width="1"/>
<line x1="648.50" y1="787.40" x2="648.50" y2="790.90" stroke="#3a3a3a" stroke-width="1"/>
<line x1="668.50" y1="787.40" x2="668.50" y2="790.90" stroke="#3a3a3a" stroke-width="1"/>
<line x1="628.50" y1="715.00" x2="628.50" y2="718.00" stroke="#777" stroke-width="0.8"/>
<line x1="623.70" y1="715.50" x2="632.40" y2="715.50" stroke="#777" stroke-width="0.8"/>
<line x1="623.70" y1="718.50" x2="632.40" y2="718.50" stroke="#777" stroke-width="0.8"/>
<circle cx="622.05" cy="717.00" r="1.7" fill="#1a44ff"/>
<circle cx="628.05" cy="715.50" r="1.7" fill="#1a44ff"/>
<circle cx="634.05" cy="716.50" r="1.7" fill="#1a44ff"/>
<line x1="648.50" y1="741.70" x2="648.50" y2="748.40" stroke="#777" stroke-width="0.8"/>
<line x1="644.11" y1="741.50" x2="652.59" y2="741.50" stroke="#777" stroke-width="0.8"/>
<line x1="644.11" y1="748.50" x2="652.59" y2="748.50" stroke="#777" stroke-width="0.8"/>
<circle cx="645.85" cy="741.50" r="1.7" fill="#d9800f"/>
<circle cx="650.85" cy="745.50" r="1.7" fill="#d9800f"/>
<circle cx="648.35" cy="748.50" r="1.7" fill="#d9800f"/>
<line x1="668.50" y1="706.50" x2="668.50" y2="716.20" stroke="#777" stroke-width="0.8"/>
<line x1="664.21" y1="706.50" x2="672.69" y2="706.50" stroke="#777" stroke-width="0.8"/>
<line x1="664.21" y1="716.50" x2="672.69" y2="716.50" stroke="#777" stroke-width="0.8"/>
<circle cx="668.45" cy="706.00" r="1.7" fill="#1a44ff"/>
<circle cx="668.45" cy="711.50" r="1.7" fill="#1a44ff"/>
<circle cx="668.45" cy="715.50" r="1.7" fill="#1a44ff"/>
<line x1="650.60" y1="695.40" x2="668.70" y2="695.40" stroke="#111" stroke-width="2"/>
<text x="659.45" y="694.94" font-size="13" text-anchor="middle" fill="#000" font-weight="bold" letter-spacing="1.3">*</text>
<text x="0" y="0" font-size="11.4" text-anchor="end" fill="#111" transform="translate(630.50,799.20) rotate(-28)">Cont.</text>
<text x="0" y="0" font-size="11.4" text-anchor="end" fill="#111" transform="translate(651.20,802.70) rotate(-28)">shZNF217</text>
<text x="0" y="0" font-size="11.4" text-anchor="end" fill="#111" transform="translate(674.30,803.80) rotate(-28)">shZNF217 + WT</text>
<text x="100.00" y="32.28" font-size="11.4" text-anchor="middle" fill="#111" >OVCA420</text>
<line x1="64.00" y1="37.30" x2="138.50" y2="37.30" stroke="#111" stroke-width="1.4"/>
<text x="193.30" y="31.78" font-size="11.4" text-anchor="middle" fill="#111" >TYK-Nu</text>
<line x1="149.80" y1="37.30" x2="239.00" y2="37.30" stroke="#111" stroke-width="1.4"/>
<text x="60.90" y="50.98" font-size="11.4" text-anchor="end" fill="#111" >shZNF217</text>
<line x1="71.50" y1="48.50" x2="81.30" y2="48.50" stroke="#111" stroke-width="1.3"/>
<text x="96.80" y="51.58" font-size="11.4" text-anchor="middle" fill="#111" >#1</text>
<text x="119.80" y="51.58" font-size="11.4" text-anchor="middle" fill="#111" >#2</text>
<line x1="154.90" y1="48.50" x2="165.00" y2="48.50" stroke="#111" stroke-width="1.3"/>
<text x="179.50" y="51.78" font-size="11.4" text-anchor="middle" fill="#111" >#1</text>
<text x="201.10" y="51.78" font-size="11.4" text-anchor="middle" fill="#111" >#2</text>
<text x="224.10" y="51.78" font-size="11.4" text-anchor="middle" fill="#111" >#3</text>
<text x="58.20" y="70.28" font-size="11.4" text-anchor="end" fill="#111" >ZNF217</text>
<text x="59.30" y="91.88" font-size="11.4" text-anchor="end" fill="#111" >ß-actin</text>
<rect x="62.35" y="56.95" width="75.60" height="19.40" fill="#f7f7f7" stroke="none" stroke-width="0"/>
<g>
<path d="M64.60,65.20 L70.00,65.40 L78.00,65.60 L85.00,66.00 L85.00,68.40 L78.00,68.20 L70.00,67.60 L64.60,67.20 Z" fill="#000" opacity="0.95" filter="url(#bl1)"/>
<rect x="86.30" y="67.00" width="20.40" height="2.00" rx="1.00" fill="#333" opacity="0.85" filter="url(#bl1)"/>
<rect x="109.00" y="68.05" width="21.00" height="1.70" rx="0.85" fill="#777" opacity="0.75" filter="url(#bl1)"/>
<rect x="64.50" y="71.50" width="18.50" height="1.60" rx="0.80" fill="#aaa" opacity="0.6" filter="url(#bl1)"/>
</g>
<rect x="62.35" y="56.95" width="75.60" height="19.40" fill="none" stroke="#050505" stroke-width="1.55"/>
<rect x="62.35" y="81.25" width="75.60" height="19.20" fill="#f7f7f7" stroke="none" stroke-width="0"/>
<g>
<path d="M64.00,87.30 L95.00,87.60 L110.00,88.00 L128.00,86.20 L132.00,84.60 L135.00,86.50 L131.00,91.00 L110.00,92.30 L95.00,92.40 L64.00,92.20 Z" fill="#000" opacity="1" filter="url(#bl1)"/>
</g>
<rect x="62.35" y="81.25" width="75.60" height="19.20" fill="none" stroke="#050505" stroke-width="1.55"/>
<rect x="149.75" y="56.15" width="89.50" height="18.60" fill="#f7f7f7" stroke="none" stroke-width="0"/>
<g>
<rect x="150.50" y="64.50" width="19.30" height="3.40" rx="1.70" fill="#000" opacity="1" filter="url(#bl1)"/>
<rect x="172.70" y="63.50" width="17.60" height="2.20" rx="1.10" fill="#111" opacity="1" filter="url(#bl1)"/>
<rect x="193.20" y="63.00" width="16.00" height="2.80" rx="1.40" fill="#111" opacity="1" filter="url(#bl1)"/>
<rect x="213.60" y="63.80" width="22.60" height="1.60" rx="0.80" fill="#aaa" opacity="0.8" filter="url(#bl1)"/>
<rect x="193.50" y="70.50" width="15.50" height="1.40" rx="0.70" fill="#bbb" opacity="0.7" filter="url(#bl1)"/>
</g>
<rect x="149.75" y="56.15" width="89.50" height="18.60" fill="none" stroke="#050505" stroke-width="1.55"/>
<rect x="149.75" y="79.85" width="89.50" height="18.90" fill="#f7f7f7" stroke="none" stroke-width="0"/>
<g>
<path d="M150.50,83.80 L172.00,85.20 L190.00,86.50 L212.00,86.60 L225.00,88.00 L231.50,89.50 L232.00,92.20 L225.00,91.80 L212.00,90.00 L190.00,90.20 L172.00,89.80 L150.50,88.20 Z" fill="#000" opacity="1" filter="url(#bl1)"/>
</g>
<rect x="149.75" y="79.85" width="89.50" height="18.90" fill="none" stroke="#050505" stroke-width="1.55"/>
<text x="89.20" y="121.78" font-size="11.4" text-anchor="middle" fill="#111" >OVCAR3</text>
<line x1="63.20" y1="128.10" x2="113.30" y2="128.10" stroke="#111" stroke-width="1.4"/>
<text x="148.80" y="121.78" font-size="11.4" text-anchor="middle" fill="#111" >OVCAR4</text>
<line x1="122.70" y1="127.80" x2="172.30" y2="127.80" stroke="#111" stroke-width="1.4"/>
<text x="207.60" y="121.78" font-size="11.4" text-anchor="middle" fill="#111" >OVCAR8</text>
<line x1="181.50" y1="127.80" x2="231.20" y2="127.80" stroke="#111" stroke-width="1.4"/>
<text x="59.80" y="142.28" font-size="11.4" text-anchor="end" fill="#111" >shZNF217</text>
<line x1="73.00" y1="139.50" x2="83.00" y2="139.50" stroke="#111" stroke-width="1.3"/>
<text x="100.20" y="142.68" font-size="11.4" text-anchor="middle" fill="#111" >#4</text>
<line x1="130.40" y1="139.50" x2="140.20" y2="139.50" stroke="#111" stroke-width="1.3"/>
<text x="160.10" y="142.68" font-size="11.4" text-anchor="middle" fill="#111" >#1</text>
<line x1="189.70" y1="139.50" x2="199.50" y2="139.50" stroke="#111" stroke-width="1.3"/>
<text x="221.20" y="142.68" font-size="11.4" text-anchor="middle" fill="#111" >#5</text>
<text x="57.90" y="163.08" font-size="11.4" text-anchor="end" fill="#111" >ZNF217</text>
<text x="57.90" y="185.58" font-size="11.4" text-anchor="end" fill="#111" >ß-actin</text>
<rect x="63.05" y="148.95" width="50.40" height="18.80" fill="#f7f7f7" stroke="none" stroke-width="0"/>
<g>
<path d="M65.00,156.00 L75.00,156.40 L86.00,157.50 L98.00,156.20 L111.50,155.30 L111.50,157.80 L98.00,158.60 L86.00,161.60 L75.00,161.20 L65.00,159.80 Z" fill="#000" opacity="1" filter="url(#bl1)"/>
</g>
<rect x="63.05" y="148.95" width="50.40" height="18.80" fill="none" stroke="#050505" stroke-width="1.55"/>
<rect x="63.05" y="171.75" width="50.40" height="18.40" fill="#f7f7f7" stroke="none" stroke-width="0"/>
<g>
<rect x="67.60" y="180.20" width="43.00" height="3.60" rx="1.80" fill="#000" opacity="1" filter="url(#bl1)"/>
<path d="M72.00,172.00 L84.00,172.00 L85.00,181.00 L71.00,181.00 Z" fill="url(#gsm)" opacity="0.5" filter="url(#bl2)"/>
<path d="M89.50,172.00 L102.70,172.00 L103.50,181.00 L89.00,181.00 Z" fill="url(#gsm)" opacity="0.5" filter="url(#bl2)"/>
<path d="M73.50,172.50 L74.50,172.50 L75.00,181.00 L73.00,181.00 Z" fill="#666" opacity="0.6" filter="url(#bl1)"/>
<path d="M77.00,172.50 L78.00,172.50 L78.50,181.00 L76.50,181.00 Z" fill="#777" opacity="0.5" filter="url(#bl1)"/>
<path d="M80.50,172.50 L81.50,172.50 L82.00,181.00 L80.00,181.00 Z" fill="#666" opacity="0.6" filter="url(#bl1)"/>
<path d="M91.50,172.50 L92.50,172.50 L93.00,181.00 L91.00,181.00 Z" fill="#666" opacity="0.6" filter="url(#bl1)"/>
<path d="M95.00,172.50 L96.00,172.50 L96.50,181.00 L94.50,181.00 Z" fill="#777" opacity="0.5" filter="url(#bl1)"/>
<path d="M98.50,172.50 L99.50,172.50 L100.00,181.00 L98.00,181.00 Z" fill="#666" opacity="0.6" filter="url(#bl1)"/>
<path d="M101.50,172.50 L102.30,172.50 L102.80,181.00 L101.00,181.00 Z" fill="#777" opacity="0.4" filter="url(#bl1)"/>
</g>
<rect x="63.05" y="171.75" width="50.40" height="18.40" fill="none" stroke="#050505" stroke-width="1.55"/>
<rect x="122.65" y="148.95" width="49.50" height="18.80" fill="#f7f7f7" stroke="none" stroke-width="0"/>
<g>
<rect x="125.40" y="158.50" width="19.30" height="3.00" rx="1.50" fill="#000" opacity="1" filter="url(#bl1)"/>
<rect x="148.20" y="159.70" width="9.70" height="1.60" rx="0.80" fill="#999" opacity="0.7" filter="url(#bl1)"/>
<rect x="159.60" y="157.80" width="10.50" height="3.00" rx="1.50" fill="#000" opacity="1" filter="url(#bl1)"/>
</g>
<rect x="122.65" y="148.95" width="49.50" height="18.80" fill="none" stroke="#050505" stroke-width="1.55"/>
<rect x="122.65" y="171.75" width="49.50" height="18.40" fill="#f7f7f7" stroke="none" stroke-width="0"/>
<g>
<path d="M122.80,177.40 L140.00,177.20 L147.00,177.80 L155.00,177.30 L171.80,177.30 L171.80,180.90 L155.00,180.80 L147.00,181.30 L140.00,181.00 L122.80,180.80 Z" fill="#000" opacity="1" filter="url(#bl1)"/>
</g>
<rect x="122.65" y="171.75" width="49.50" height="18.40" fill="none" stroke="#050505" stroke-width="1.55"/>
<rect x="181.15" y="148.65" width="50.10" height="19.30" fill="#f7f7f7" stroke="none" stroke-width="0"/>
<g>
<rect x="184.00" y="158.70" width="19.80" height="5.00" rx="2.50" fill="#000" opacity="1" filter="url(#bl1)"/>
<rect x="186.00" y="159.40" width="13.00" height="5.00" rx="2.50" fill="#000" opacity="1" filter="url(#bl1)"/>
<path d="M185.00,149.50 L202.00,149.50 L203.50,159.00 L184.50,159.00 Z" fill="url(#gsm)" opacity="0.55" filter="url(#bl2)"/>
<rect x="207.00" y="159.60" width="18.00" height="1.40" rx="0.70" fill="#ccc" opacity="0.6" filter="url(#bl1)"/>
</g>
<rect x="181.15" y="148.65" width="50.10" height="19.30" fill="none" stroke="#050505" stroke-width="1.55"/>
<rect x="181.15" y="171.65" width="50.10" height="19.10" fill="#f7f7f7" stroke="none" stroke-width="0"/>
<g>
<path d="M183.10,180.30 L200.00,181.00 L215.00,181.50 L227.70,180.80 L227.70,184.20 L215.00,185.00 L200.00,185.80 L190.00,185.00 L183.10,183.60 Z" fill="#000" opacity="1" filter="url(#bl1)"/>
</g>
<rect x="181.15" y="171.65" width="50.10" height="19.10" fill="none" stroke="#050505" stroke-width="1.55"/>
<text x="611.60" y="424.28" font-size="11.4" text-anchor="middle" fill="#111" >OVCA420</text>
<line x1="578.00" y1="428.80" x2="647.70" y2="428.80" stroke="#111" stroke-width="1.4"/>
<text x="573.20" y="442.38" font-size="11.4" text-anchor="end" fill="#111" >ZNF217-Res</text>
<text x="572.70" y="458.58" font-size="11.4" text-anchor="end" fill="#111" >shZNF217</text>
<line x1="582.40" y1="438.50" x2="596.00" y2="438.50" stroke="#111" stroke-width="1.3"/>
<line x1="603.30" y1="438.50" x2="617.00" y2="438.50" stroke="#111" stroke-width="1.3"/>
<line x1="628.70" y1="437.50" x2="638.30" y2="437.50" stroke="#111" stroke-width="1.25"/>
<line x1="633.50" y1="432.80" x2="633.50" y2="442.80" stroke="#111" stroke-width="1.25"/>
<line x1="582.00" y1="454.50" x2="595.50" y2="454.50" stroke="#111" stroke-width="1.3"/>
<line x1="606.90" y1="454.50" x2="616.70" y2="454.50" stroke="#111" stroke-width="1.25"/>
<line x1="611.50" y1="449.30" x2="611.50" y2="459.10" stroke="#111" stroke-width="1.25"/>
<line x1="628.80" y1="454.50" x2="638.60" y2="454.50" stroke="#111" stroke-width="1.25"/>
<line x1="633.50" y1="449.30" x2="633.50" y2="459.10" stroke="#111" stroke-width="1.25"/>
<text x="571.80" y="477.78" font-size="11.4" text-anchor="end" fill="#111" >ZNF217</text>
<text x="571.80" y="496.78" font-size="11.4" text-anchor="end" fill="#111" >ß-actin</text>
<rect x="577.95" y="463.15" width="70.20" height="18.70" fill="#f7f7f7" stroke="none" stroke-width="0"/>
<g>
<path d="M578.00,463.00 L597.00,463.00 L597.00,476.00 L578.00,472.00 Z" fill="#aaa" opacity="0.55" filter="url(#bl2)"/>
<path d="M579.50,468.00 L590.00,470.20 L596.50,472.20 L596.50,475.80 L590.00,474.20 L579.50,472.00 Z" fill="#333" opacity="0.85" filter="url(#bl1)"/>
<rect x="601.30" y="473.75" width="16.90" height="2.30" rx="1.15" fill="#000" opacity="1" filter="url(#bl1)"/>
<rect x="622.10" y="474.10" width="22.40" height="5.00" rx="2.50" fill="#000" opacity="1" filter="url(#bl1)"/>
</g>
<rect x="577.95" y="463.15" width="70.20" height="18.70" fill="none" stroke="#050505" stroke-width="1.55"/>
<rect x="577.95" y="485.35" width="70.20" height="18.70" fill="#f7f7f7" stroke="none" stroke-width="0"/>
<g>
<path d="M582.00,491.00 L592.00,487.00 L599.00,485.50 L600.00,489.00 L592.00,493.00 L582.00,495.00 Z" fill="#999" opacity="0.45" filter="url(#bl2)"/>
<path d="M578.50,494.50 L592.00,494.00 L599.00,492.30 L599.00,497.80 L590.00,499.40 L578.50,499.40 Z" fill="#000" opacity="1" filter="url(#bl1)"/>
<path d="M601.50,490.30 L612.00,490.30 L620.50,489.50 L620.50,495.50 L612.00,495.30 L601.50,494.30 Z" fill="#000" opacity="1" filter="url(#bl1)"/>
<rect x="623.70" y="489.90" width="20.30" height="5.00" rx="2.50" fill="#000" opacity="1" filter="url(#bl1)"/>
</g>
<rect x="577.95" y="485.35" width="70.20" height="18.70" fill="none" stroke="#050505" stroke-width="1.55"/>
<text x="615.00" y="524.78" font-size="11.4" text-anchor="middle" fill="#111" >TYK-Nu</text>
<line x1="579.90" y1="530.10" x2="650.00" y2="530.10" stroke="#111" stroke-width="1.4"/>
<text x="576.20" y="542.38" font-size="11.4" text-anchor="end" fill="#111" >ZNF217-Res</text>
<text x="576.20" y="558.98" font-size="11.4" text-anchor="end" fill="#111" >shZNF217</text>
<line x1="585.00" y1="538.50" x2="598.90" y2="538.50" stroke="#111" stroke-width="1.3"/>
<line x1="606.10" y1="538.50" x2="620.10" y2="538.50" stroke="#111" stroke-width="1.3"/>
<line x1="631.30" y1="538.50" x2="641.20" y2="538.50" stroke="#111" stroke-width="1.25"/>
<line x1="636.50" y1="533.50" x2="636.50" y2="543.20" stroke="#111" stroke-width="1.25"/>
<line x1="585.00" y1="554.50" x2="598.90" y2="554.50" stroke="#111" stroke-width="1.3"/>
<line x1="609.70" y1="554.50" x2="620.10" y2="554.50" stroke="#111" stroke-width="1.25"/>
<line x1="614.50" y1="549.50" x2="614.50" y2="559.00" stroke="#111" stroke-width="1.25"/>
<line x1="631.60" y1="554.50" x2="641.80" y2="554.50" stroke="#111" stroke-width="1.25"/>
<line x1="636.50" y1="549.50" x2="636.50" y2="559.00" stroke="#111" stroke-width="1.25"/>
<text x="575.00" y="579.88" font-size="11.4" text-anchor="end" fill="#111" >ZNF217</text>
<text x="575.00" y="600.38" font-size="11.4" text-anchor="end" fill="#111" >ß-actin</text>
<rect x="580.15" y="564.05" width="69.80" height="18.70" fill="#f7f7f7" stroke="none" stroke-width="0"/>
<g>
<rect x="583.10" y="572.00" width="15.80" height="3.20" rx="1.60" fill="#000" opacity="1" filter="url(#bl1)"/>
<rect x="605.00" y="572.80" width="15.00" height="1.40" rx="0.70" fill="#888" opacity="0.8" filter="url(#bl1)"/>
<rect x="606.00" y="575.70" width="13.00" height="1.20" rx="0.60" fill="#bbb" opacity="0.6" filter="url(#bl1)"/>
<rect x="626.90" y="571.20" width="16.80" height="6.00" rx="3.00" fill="#000" opacity="1" filter="url(#bl1)"/>
</g>
<rect x="580.15" y="564.05" width="69.80" height="18.70" fill="none" stroke="#050505" stroke-width="1.55"/>
<rect x="580.15" y="585.95" width="69.80" height="18.80" fill="#f7f7f7" stroke="none" stroke-width="0"/>
<g>
<rect x="580.50" y="594.40" width="21.50" height="3.60" rx="1.80" fill="#000" opacity="1" filter="url(#bl1)"/>
<rect x="604.00" y="594.90" width="21.00" height="3.00" rx="1.50" fill="#000" opacity="1" filter="url(#bl1)"/>
<rect x="626.00" y="594.10" width="19.00" height="3.40" rx="1.70" fill="#000" opacity="1" filter="url(#bl1)"/>
</g>
<rect x="580.15" y="585.95" width="69.80" height="18.80" fill="none" stroke="#050505" stroke-width="1.55"/>
</svg>
</body></html>
